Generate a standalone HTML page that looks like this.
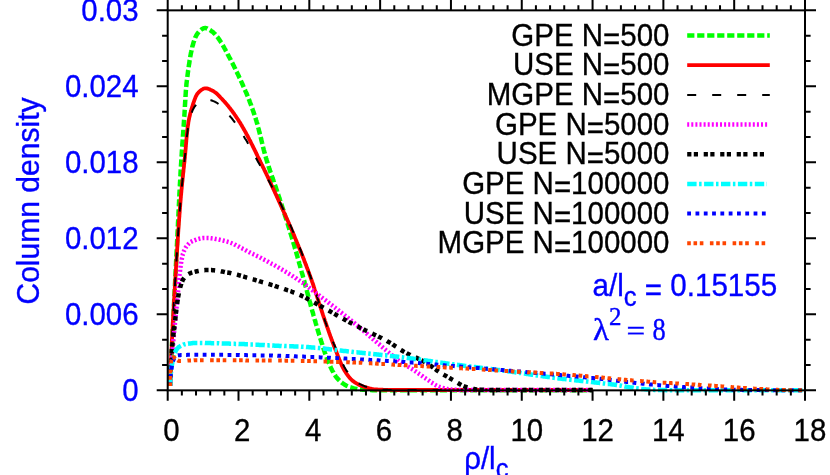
<!DOCTYPE html>
<html><head><meta charset="utf-8"><title>Column density</title>
<style>html,body{margin:0;padding:0;background:#fff;overflow:hidden}body{width:830px;height:475px;font-family:"Liberation Sans",sans-serif}svg{display:block;will-change:transform}</style></head>
<body>
<svg width="830" height="475" viewBox="0 0 830 475">
<rect width="830" height="475" fill="#fff"/>
<g fill="none" stroke-linejoin="round">
<path d="M170.0 386.0L170.0 385.2L170.1 384.4L170.1 383.6L170.2 382.8L170.2 382.0L170.2 381.2L170.3 380.4L170.3 379.6L170.4 378.8L170.4 378.0L170.4 377.2L170.5 376.4L170.5 375.6L170.5 374.8L170.6 374.0L170.6 373.2L170.7 372.4L170.7 371.6L170.7 370.8L170.8 370.0L170.8 369.2L170.9 368.4L170.9 367.6L170.9 366.8L171.0 366.0L171.0 365.2L171.1 364.4L171.1 363.6L171.1 362.8L171.2 362.0L171.2 361.2L171.2 360.4L171.3 359.6L171.3 358.8L171.4 358.0L171.4 357.2L171.4 356.4L171.5 355.6L171.5 354.8L171.6 354.0L171.6 353.2L171.6 352.4L171.7 351.6L171.7 350.8L171.8 350.0L171.8 349.2L171.8 348.4L171.9 347.6L171.9 346.8L172.0 346.0L172.0 345.2L172.0 344.4L172.1 343.6L172.1 342.8L172.1 342.0L172.2 341.2L172.2 340.4L172.3 339.6L172.3 338.8L172.3 338.0L172.4 337.2L172.4 336.4L172.5 335.6L172.5 334.8L172.5 334.0L172.6 333.2L172.6 332.4L172.7 331.6L172.7 330.8L172.7 330.0L172.8 329.2L172.8 328.4L172.9 327.6L172.9 326.8L172.9 326.0L173.0 325.2L173.0 324.4L173.1 323.6L173.1 322.8L173.1 322.0L173.2 321.2L173.2 320.4L173.3 319.6L173.3 318.8L173.3 318.0L173.4 317.2L173.4 316.4L173.4 315.6L173.5 314.8L173.5 314.0L173.6 313.2L173.6 312.4L173.6 311.6L173.7 310.8L173.7 310.0L173.8 309.2L173.8 308.4L173.8 307.6L173.9 306.8L173.9 306.0L174.0 305.2L174.0 304.4L174.0 303.6L174.1 302.8L174.1 302.0L174.2 301.2L174.2 300.4L174.2 299.6L174.3 298.8L174.3 298.0L174.4 297.2L174.4 296.4L174.4 295.6L174.5 294.8L174.5 294.0L174.6 293.2L174.6 292.4L174.6 291.6L174.7 290.8L174.7 290.0L174.8 289.2L174.8 288.4L174.8 287.6L174.9 286.8L174.9 286.0L175.0 285.2L175.0 284.4L175.0 283.6L175.1 282.8L175.1 282.0L175.2 281.2L175.2 280.4L175.2 279.6L175.3 278.8L175.3 278.0L175.4 277.2L175.4 276.4L175.4 275.6L175.5 274.8L175.5 274.0L175.5 273.2L175.6 272.4L175.6 271.6L175.7 270.8L175.7 270.0L175.7 269.2L175.8 268.4L175.8 267.6L175.9 266.8L175.9 266.0L175.9 265.2L176.0 264.4L176.0 263.6L176.1 262.8L176.1 262.0L176.1 261.2L176.2 260.4L176.2 259.6L176.3 258.8L176.3 258.0L176.3 257.2L176.4 256.4L176.4 255.6L176.5 254.8L176.5 254.0L176.5 253.2L176.6 252.4L176.6 251.6L176.7 250.8L176.7 250.0L176.7 249.2L176.8 248.4L176.8 247.6L176.9 246.8L176.9 246.0L176.9 245.2L177.0 244.4L177.0 243.6L177.1 242.8L177.1 242.0L177.1 241.2L177.2 240.4L177.2 239.6L177.3 238.8L177.3 238.0L177.3 237.2L177.4 236.4L177.4 235.6L177.5 234.8L177.5 234.0L177.5 233.2L177.6 232.4L177.6 231.6L177.7 230.8L177.7 230.0L177.7 229.2L177.8 228.4L177.8 227.6L177.9 226.8L177.9 226.0L177.9 225.2L178.0 224.4L178.0 223.6L178.0 222.8L178.1 222.0L178.1 221.2L178.2 220.4L178.2 219.6L178.2 218.8L178.3 218.0L178.3 217.2L178.4 216.4L178.4 215.6L178.4 214.7L178.5 213.9L178.5 213.1L178.5 212.3L178.6 211.5L178.6 210.7L178.7 209.9L178.7 209.1L178.7 208.3L178.8 207.5L178.8 206.7L178.9 205.9L178.9 205.1L178.9 204.3L179.0 203.5L179.0 202.7L179.1 201.9L179.1 201.1L179.1 200.3L179.2 199.5L179.2 198.7L179.2 197.9L179.3 197.1L179.3 196.3L179.4 195.5L179.4 194.7L179.4 193.9L179.5 193.1L179.5 192.3L179.6 191.5L179.6 190.7L179.7 189.9L179.7 189.1L179.7 188.3L179.8 187.5L179.8 186.7L179.9 185.9L179.9 185.1L179.9 184.3L180.0 183.5L180.0 182.7L180.1 181.9L180.1 181.1L180.2 180.3L180.2 179.5L180.2 178.7L180.3 177.9L180.3 177.1L180.4 176.3L180.4 175.5L180.5 174.7L180.5 173.9L180.5 173.1L180.6 172.3L180.6 171.5L180.7 170.7L180.7 169.9L180.8 169.1L180.8 168.3L180.9 167.5L180.9 166.7L181.0 165.9L181.0 165.1L181.1 164.3L181.1 163.5L181.2 162.7L181.2 161.9L181.3 161.1L181.3 160.3L181.4 159.5L181.4 158.7L181.5 157.9L181.5 157.1L181.6 156.3L181.6 155.5L181.7 154.7L181.7 154.0L181.8 153.2L181.8 152.4L181.9 151.6L181.9 150.8L182.0 150.0L182.1 149.2L182.1 148.4L182.2 147.6L182.2 146.8L182.3 146.0L182.3 145.2L182.4 144.4L182.4 143.6L182.5 142.8L182.5 142.0L182.6 141.2L182.7 140.4L182.7 139.6L182.8 138.8L182.8 138.0L182.9 137.2L182.9 136.4L183.0 135.6L183.0 134.8L183.1 134.0L183.2 133.2L183.2 132.4L183.3 131.6L183.3 130.8L183.4 130.0L183.4 129.2L183.5 128.4L183.5 127.6L183.6 126.8L183.7 126.0L183.7 125.2L183.8 124.4L183.8 123.6L183.9 122.8L183.9 122.0L184.0 121.2L184.0 120.4L184.1 119.6L184.1 118.8L184.2 118.0L184.2 117.2L184.3 116.4L184.4 115.6L184.4 114.8L184.5 114.0L184.5 113.2L184.6 112.4L184.6 111.6L184.7 110.8L184.7 110.0L184.8 109.2L184.8 108.4L184.9 107.6L184.9 106.8L184.9 106.0L185.0 105.2L185.0 104.4L185.1 103.6L185.1 102.8L185.2 102.0L185.2 101.2L185.3 100.4L185.3 99.6L185.4 98.8L185.4 98.0L185.5 97.2L185.5 96.4L185.6 95.6L185.6 94.8L185.7 94.0L185.7 93.2L185.8 92.4L185.8 91.6L185.9 90.8L185.9 90.0L186.0 89.2L186.1 88.4L186.1 87.6L186.2 86.8L186.3 86.0L186.4 85.2L186.4 84.4L186.5 83.6L186.6 82.8L186.7 82.0L186.8 81.2L186.9 80.4L187.0 79.6L187.1 78.8L187.2 78.0L187.3 77.2L187.4 76.4L187.5 75.7L187.6 74.9L187.7 74.1L187.8 73.3L187.9 72.5L188.0 71.7L188.1 70.9L188.2 70.1L188.4 69.3L188.5 68.5L188.6 67.7L188.7 66.9L188.8 66.1L188.9 65.3L189.0 64.5L189.2 63.7L189.3 62.9L189.4 62.2L189.5 61.4L189.6 60.6L189.8 59.8L189.9 59.0L190.0 58.2L190.2 57.4L190.3 56.6L190.4 55.8L190.6 55.0L190.7 54.2L190.9 53.4L191.0 52.6L191.2 51.9L191.4 51.1L191.5 50.3L191.7 49.5L191.9 48.7L192.1 48.0L192.2 47.2L192.4 46.4L192.6 45.7L192.9 44.9L193.1 44.1L193.3 43.3L193.5 42.5L193.8 41.7L194.1 40.9L194.3 40.1L194.6 39.3L194.9 38.5L195.2 37.7L195.5 37.0L195.9 36.3L196.2 35.6L196.6 34.9L197.0 34.3L197.4 33.7L197.8 33.1L198.3 32.5L198.8 31.9L199.4 31.2L200.1 30.6L200.8 30.0L201.5 29.4L202.2 29.0L202.9 28.6L203.6 28.3L204.4 28.1L205.0 28.0L205.7 28.1L206.5 28.3L207.2 28.5L207.9 28.9L208.7 29.3L209.4 29.7L210.2 30.2L210.9 30.7L211.5 31.2L212.2 31.6L212.8 32.1L213.4 32.6L214.0 33.2L214.6 33.7L215.2 34.3L215.7 34.9L216.2 35.6L216.7 36.2L217.2 36.8L217.7 37.4L218.2 38.0L218.6 38.7L219.1 39.3L219.5 40.0L220.0 40.6L220.4 41.3L220.8 42.0L221.3 42.7L221.7 43.3L222.1 44.0L222.5 44.7L222.9 45.4L223.3 46.1L223.7 46.8L224.1 47.5L224.5 48.3L224.9 49.0L225.3 49.7L225.6 50.4L226.0 51.1L226.4 51.8L226.8 52.5L227.2 53.3L227.5 54.0L227.9 54.7L228.3 55.4L228.7 56.1L229.0 56.8L229.4 57.5L229.8 58.2L230.2 58.9L230.6 59.6L230.9 60.3L231.3 61.0L231.7 61.8L232.0 62.5L232.4 63.2L232.8 63.9L233.1 64.6L233.5 65.3L233.9 66.0L234.2 66.8L234.6 67.5L234.9 68.2L235.3 68.9L235.6 69.6L236.0 70.4L236.3 71.1L236.7 71.8L237.0 72.5L237.4 73.3L237.7 74.0L238.1 74.7L238.4 75.4L238.7 76.1L239.1 76.9L239.4 77.6L239.8 78.3L240.1 79.1L240.4 79.8L240.8 80.5L241.1 81.2L241.4 82.0L241.8 82.7L242.1 83.4L242.4 84.2L242.7 84.9L243.1 85.6L243.4 86.4L243.7 87.1L244.0 87.8L244.4 88.6L244.7 89.3L245.0 90.0L245.3 90.8L245.6 91.5L246.0 92.2L246.3 93.0L246.6 93.7L246.9 94.5L247.2 95.2L247.5 95.9L247.8 96.7L248.1 97.4L248.4 98.2L248.7 98.9L249.0 99.7L249.3 100.4L249.6 101.1L249.8 101.9L250.1 102.6L250.4 103.4L250.7 104.1L251.0 104.9L251.2 105.7L251.5 106.4L251.8 107.2L252.0 107.9L252.3 108.7L252.6 109.4L252.8 110.2L253.1 110.9L253.4 111.7L253.6 112.5L253.9 113.2L254.1 114.0L254.4 114.7L254.6 115.5L254.9 116.3L255.1 117.0L255.4 117.8L255.6 118.5L255.9 119.3L256.1 120.1L256.4 120.8L256.6 121.6L256.8 122.4L257.0 123.1L257.3 123.9L257.5 124.7L257.7 125.5L257.9 126.2L258.1 127.0L258.3 127.8L258.5 128.5L258.7 129.3L258.9 130.1L259.1 130.9L259.3 131.6L259.5 132.4L259.7 133.2L259.9 134.0L260.1 134.8L260.3 135.5L260.5 136.3L260.7 137.1L260.9 137.9L261.1 138.7L261.2 139.4L261.4 140.2L261.6 141.0L261.8 141.8L262.0 142.6L262.2 143.3L262.4 144.1L262.6 144.9L262.8 145.7L262.9 146.4L263.1 147.2L263.3 148.0L263.5 148.8L263.7 149.6L263.9 150.3L264.1 151.1L264.3 151.9L264.5 152.7L264.7 153.4L264.9 154.2L265.1 155.0L265.4 155.8L265.6 156.5L265.8 157.3L266.0 158.1L266.2 158.8L266.5 159.6L266.7 160.4L266.9 161.1L267.2 161.9L267.4 162.7L267.6 163.4L267.9 164.2L268.1 164.9L268.4 165.7L268.6 166.5L268.9 167.2L269.1 168.0L269.4 168.8L269.6 169.5L269.9 170.3L270.1 171.0L270.4 171.8L270.6 172.6L270.9 173.3L271.2 174.1L271.4 174.8L271.7 175.6L271.9 176.3L272.2 177.1L272.5 177.9L272.7 178.6L273.0 179.4L273.2 180.1L273.5 180.9L273.8 181.6L274.0 182.4L274.3 183.2L274.6 183.9L274.8 184.7L275.1 185.4L275.4 186.2L275.6 186.9L275.9 187.7L276.1 188.5L276.4 189.2L276.7 190.0L276.9 190.7L277.2 191.5L277.4 192.3L277.7 193.0L277.9 193.8L278.2 194.5L278.4 195.3L278.7 196.1L278.9 196.8L279.2 197.6L279.4 198.3L279.7 199.1L279.9 199.9L280.2 200.6L280.4 201.4L280.7 202.2L280.9 202.9L281.2 203.7L281.4 204.4L281.7 205.2L281.9 206.0L282.2 206.7L282.4 207.5L282.7 208.3L282.9 209.0L283.2 209.8L283.4 210.5L283.7 211.3L283.9 212.1L284.2 212.8L284.4 213.6L284.6 214.3L284.9 215.1L285.1 215.9L285.4 216.6L285.6 217.4L285.9 218.2L286.1 218.9L286.4 219.7L286.6 220.5L286.8 221.2L287.1 222.0L287.3 222.7L287.6 223.5L287.8 224.3L288.1 225.0L288.3 225.8L288.5 226.6L288.8 227.3L289.0 228.1L289.2 228.9L289.5 229.6L289.7 230.4L289.9 231.2L290.2 231.9L290.4 232.7L290.6 233.5L290.9 234.2L291.1 235.0L291.3 235.8L291.6 236.5L291.8 237.3L292.0 238.1L292.2 238.8L292.5 239.6L292.7 240.4L292.9 241.1L293.2 241.9L293.4 242.7L293.6 243.4L293.8 244.2L294.1 245.0L294.3 245.7L294.5 246.5L294.7 247.3L294.9 248.1L295.2 248.8L295.4 249.6L295.6 250.4L295.8 251.1L296.1 251.9L296.3 252.7L296.5 253.4L296.7 254.2L296.9 255.0L297.2 255.8L297.4 256.5L297.6 257.3L297.8 258.1L298.0 258.8L298.2 259.6L298.5 260.4L298.7 261.2L298.9 261.9L299.1 262.7L299.3 263.5L299.5 264.2L299.8 265.0L300.0 265.8L300.2 266.6L300.4 267.3L300.6 268.1L300.8 268.9L301.1 269.6L301.3 270.4L301.5 271.2L301.7 272.0L301.9 272.7L302.1 273.5L302.4 274.3L302.6 275.0L302.8 275.8L303.0 276.6L303.2 277.4L303.4 278.1L303.6 278.9L303.8 279.7L304.1 280.5L304.3 281.2L304.5 282.0L304.7 282.8L304.9 283.5L305.1 284.3L305.3 285.1L305.5 285.9L305.7 286.6L305.9 287.4L306.1 288.2L306.3 289.0L306.6 289.7L306.8 290.5L307.0 291.3L307.2 292.1L307.4 292.8L307.6 293.6L307.8 294.4L308.0 295.2L308.2 295.9L308.4 296.7L308.6 297.5L308.8 298.3L309.0 299.0L309.3 299.8L309.5 300.6L309.7 301.3L309.9 302.1L310.1 302.9L310.3 303.7L310.5 304.4L310.7 305.2L310.9 306.0L311.1 306.8L311.4 307.5L311.6 308.3L311.8 309.1L312.0 309.8L312.2 310.6L312.4 311.4L312.7 312.2L312.9 312.9L313.1 313.7L313.3 314.5L313.5 315.2L313.7 316.0L314.0 316.8L314.2 317.6L314.4 318.3L314.6 319.1L314.8 319.9L315.1 320.6L315.3 321.4L315.5 322.2L315.7 323.0L315.9 323.7L316.2 324.5L316.4 325.3L316.6 326.0L316.8 326.8L317.0 327.6L317.3 328.3L317.5 329.1L317.7 329.9L317.9 330.6L318.2 331.4L318.4 332.2L318.6 333.0L318.9 333.7L319.1 334.5L319.3 335.3L319.6 336.0L319.8 336.8L320.0 337.5L320.3 338.3L320.5 339.1L320.8 339.8L321.0 340.6L321.2 341.4L321.5 342.1L321.7 342.9L322.0 343.7L322.2 344.4L322.4 345.2L322.7 346.0L322.9 346.7L323.2 347.5L323.4 348.3L323.7 349.0L323.9 349.8L324.2 350.6L324.4 351.3L324.7 352.1L324.9 352.9L325.2 353.6L325.5 354.4L325.7 355.1L326.0 355.9L326.3 356.6L326.6 357.4L326.8 358.1L327.1 358.9L327.4 359.6L327.7 360.3L328.0 361.1L328.3 361.8L328.6 362.5L329.0 363.3L329.3 364.0L329.6 364.8L329.9 365.5L330.3 366.3L330.6 367.1L330.9 367.8L331.3 368.6L331.7 369.3L332.0 370.0L332.4 370.8L332.8 371.5L333.2 372.2L333.5 372.9L333.9 373.6L334.4 374.3L334.8 375.0L335.2 375.6L335.6 376.2L336.1 376.9L336.6 377.5L337.0 378.0L337.5 378.6L338.1 379.2L338.6 379.8L339.2 380.3L339.8 380.9L340.4 381.5L341.0 382.0L341.7 382.5L342.3 383.1L343.0 383.5L343.7 384.0L344.4 384.5L345.1 384.9L345.8 385.3L346.5 385.7L347.2 386.0L347.9 386.3L348.6 386.6L349.3 386.9L350.0 387.2L350.8 387.4L351.5 387.7L352.3 387.9L353.1 388.2L353.9 388.4L354.7 388.6L355.5 388.8L356.3 389.0L357.1 389.1L357.9 389.3L358.7 389.4L359.5 389.5L360.3 389.5L361.1 389.6L361.8 389.6L362.6 389.7L363.4 389.7L364.2 389.8L365.0 389.8L365.8 389.9L366.6 389.9L367.4 390.0L368.2 390.0L369.0 390.0L369.8 390.1L370.6 390.1L371.4 390.1L372.2 390.2L373.0 390.2L373.9 390.2L374.7 390.2L375.5 390.3L376.3 390.3L377.1 390.3L377.9 390.3L378.7 390.3L379.5 390.3L380.3 390.3L381.1 390.3L381.9 390.3L382.7 390.3L383.5 390.3L384.3 390.3L385.1 390.3L385.9 390.3L386.7 390.3L387.5 390.3L388.3 390.3L389.1 390.3L389.9 390.3L390.7 390.3L391.5 390.3L392.3 390.3L393.1 390.3L393.9 390.3L394.7 390.3L395.5 390.3L396.3 390.3L397.1 390.3L397.9 390.3L398.7 390.3L399.5 390.3L400.3 390.3L401.1 390.3L401.9 390.3L402.7 390.3L403.5 390.3L404.3 390.3L405.1 390.3L405.9 390.3L406.7 390.3L407.5 390.3L408.3 390.3L409.1 390.3L409.9 390.3L410.7 390.3L411.5 390.3L412.3 390.3L413.1 390.3L413.9 390.3L414.7 390.3L415.5 390.3L416.3 390.3L417.1 390.3L417.9 390.3L418.7 390.3L419.5 390.3L420.3 390.3L421.1 390.3L421.9 390.3L422.7 390.3L423.5 390.3L424.3 390.3L425.1 390.3L425.9 390.3L426.7 390.3L427.5 390.3L428.3 390.3L429.1 390.3L429.9 390.3L430.7 390.3L431.5 390.3L432.3 390.3L433.1 390.3L433.9 390.3L434.7 390.3L435.5 390.3L436.3 390.3L437.1 390.3L437.9 390.3L438.7 390.3L439.5 390.3L440.3 390.3L441.1 390.3L441.9 390.3L442.8 390.3L443.6 390.3L444.4 390.3L445.2 390.3L446.0 390.3L446.8 390.3L447.6 390.3L448.4 390.3L449.2 390.3L450.0 390.3L450.8 390.3L451.6 390.3L452.4 390.3L453.2 390.3L454.0 390.3L454.8 390.3L455.6 390.3L456.4 390.3L457.2 390.3L458.0 390.3L458.8 390.3L459.6 390.3L460.4 390.3L461.2 390.3L462.0 390.3L462.8 390.3L463.6 390.3L464.4 390.3L465.2 390.3L466.0 390.3L466.8 390.3L467.6 390.3L468.4 390.3L469.2 390.3L470.0 390.3L470.8 390.3L471.6 390.3L472.4 390.3L473.2 390.3L474.0 390.3L474.8 390.3L475.6 390.3L476.4 390.3L477.2 390.3L478.0 390.3L478.8 390.3L479.6 390.3L480.4 390.3L481.2 390.3L482.0 390.3L482.8 390.3L483.6 390.3L484.4 390.3L485.2 390.3L486.0 390.3L486.8 390.3L487.6 390.3L488.4 390.3L489.2 390.3L490.0 390.3L490.8 390.3L491.6 390.3L492.4 390.3L493.2 390.3L494.0 390.3L494.8 390.3L495.6 390.3L496.4 390.3L497.2 390.3L498.0 390.3L498.8 390.3L499.6 390.3L500.4 390.3L501.2 390.3L502.0 390.3L502.8 390.3L503.6 390.3L504.4 390.3L505.2 390.3L506.0 390.3L506.8 390.3L507.6 390.3L508.4 390.3L509.2 390.3L510.0 390.3L510.8 390.3L511.6 390.3L512.4 390.3L513.2 390.3L514.1 390.3L514.9 390.3L515.7 390.3L516.5 390.3L517.3 390.3L518.1 390.3L518.9 390.3L519.7 390.3L520.5 390.3L521.3 390.3L522.1 390.3L522.9 390.3L523.7 390.3L524.5 390.3L525.3 390.3L526.1 390.3L526.9 390.3L527.7 390.3L528.5 390.3L529.3 390.3L530.1 390.3L530.9 390.3L531.7 390.3L532.5 390.3L533.3 390.3L534.1 390.3L534.9 390.3L535.7 390.3L536.5 390.3L537.3 390.3L538.1 390.3L538.9 390.3L539.7 390.3L540.5 390.3L541.3 390.3L542.1 390.3L542.9 390.3L543.7 390.3L544.5 390.3L545.3 390.3L546.1 390.3L546.9 390.3L547.7 390.3L548.5 390.3L549.3 390.3L550.1 390.3L550.9 390.3L551.7 390.3L552.5 390.3L553.3 390.3L554.1 390.3L554.9 390.3L555.7 390.3L556.5 390.3L557.3 390.3L558.1 390.3L558.9 390.3L559.7 390.3L560.5 390.3L561.3 390.3L562.1 390.3L562.9 390.3L563.7 390.3L564.5 390.3L565.3 390.3L566.1 390.3L566.9 390.3L567.7 390.3L568.5 390.3L569.4 390.3L570.2 390.3L571.0 390.3L571.8 390.3L572.6 390.3L573.4 390.3L574.2 390.3L575.0 390.3L575.8 390.3L576.6 390.3L577.4 390.3L578.2 390.3L579.0 390.3L579.8 390.3L580.6 390.3L581.4 390.3L582.2 390.3L583.0 390.3L583.8 390.3L584.6 390.3L585.4 390.3L586.2 390.3L587.0 390.3L587.8 390.3L588.6 390.3L589.4 390.3L590.2 390.3L591.0 390.3L591.8 390.3L592.6 390.3" stroke="#00ff00" stroke-width="4.5" stroke-dasharray="7.2 2.8"/>
<path d="M170.0 386.0L170.0 385.2L170.1 384.4L170.1 383.6L170.1 382.8L170.1 382.0L170.2 381.2L170.2 380.4L170.2 379.6L170.3 378.8L170.3 378.0L170.3 377.2L170.4 376.4L170.4 375.6L170.4 374.8L170.5 374.0L170.5 373.2L170.5 372.4L170.6 371.6L170.6 370.8L170.6 370.0L170.7 369.2L170.7 368.4L170.7 367.6L170.8 366.8L170.8 366.0L170.8 365.2L170.9 364.4L170.9 363.6L170.9 362.8L171.0 362.0L171.0 361.2L171.0 360.4L171.1 359.6L171.1 358.8L171.1 358.0L171.2 357.2L171.2 356.4L171.2 355.6L171.3 354.8L171.3 354.0L171.4 353.2L171.4 352.4L171.4 351.6L171.5 350.8L171.5 350.0L171.5 349.2L171.6 348.4L171.6 347.6L171.7 346.8L171.7 346.0L171.7 345.2L171.8 344.4L171.8 343.6L171.8 342.8L171.9 342.0L171.9 341.2L172.0 340.4L172.0 339.6L172.0 338.8L172.1 338.0L172.1 337.2L172.2 336.4L172.2 335.6L172.2 334.8L172.3 334.0L172.3 333.2L172.4 332.4L172.4 331.6L172.4 330.8L172.5 330.0L172.5 329.2L172.6 328.4L172.6 327.6L172.6 326.8L172.7 326.0L172.7 325.2L172.8 324.4L172.8 323.6L172.8 322.8L172.9 322.0L172.9 321.2L173.0 320.4L173.0 319.6L173.1 318.8L173.1 318.0L173.1 317.2L173.2 316.4L173.2 315.6L173.3 314.8L173.3 314.0L173.4 313.2L173.4 312.4L173.5 311.6L173.5 310.8L173.5 310.0L173.6 309.2L173.6 308.4L173.7 307.6L173.7 306.8L173.8 306.0L173.8 305.2L173.8 304.4L173.9 303.6L173.9 302.8L174.0 302.0L174.0 301.2L174.1 300.4L174.1 299.6L174.2 298.8L174.2 298.0L174.3 297.2L174.3 296.4L174.3 295.6L174.4 294.8L174.4 294.0L174.5 293.2L174.5 292.4L174.6 291.6L174.6 290.8L174.7 290.0L174.7 289.2L174.8 288.4L174.8 287.6L174.9 286.8L174.9 286.0L175.0 285.2L175.0 284.4L175.0 283.6L175.1 282.8L175.1 282.0L175.2 281.2L175.2 280.4L175.3 279.6L175.3 278.8L175.4 278.0L175.4 277.2L175.5 276.4L175.5 275.6L175.6 274.8L175.6 274.0L175.7 273.2L175.7 272.4L175.8 271.6L175.8 270.8L175.9 270.0L175.9 269.2L176.0 268.4L176.0 267.6L176.1 266.8L176.1 266.0L176.2 265.2L176.2 264.4L176.3 263.6L176.3 262.8L176.4 262.0L176.4 261.2L176.5 260.4L176.5 259.6L176.6 258.8L176.6 258.0L176.7 257.2L176.7 256.4L176.8 255.6L176.8 254.8L176.9 254.0L176.9 253.2L177.0 252.4L177.0 251.6L177.1 250.8L177.1 250.0L177.2 249.2L177.2 248.4L177.3 247.6L177.3 246.8L177.4 246.0L177.4 245.2L177.5 244.4L177.5 243.6L177.6 242.8L177.6 242.0L177.7 241.2L177.7 240.4L177.8 239.6L177.8 238.8L177.9 238.0L177.9 237.2L178.0 236.4L178.0 235.6L178.1 234.8L178.1 234.0L178.2 233.2L178.2 232.4L178.3 231.6L178.3 230.8L178.4 230.0L178.4 229.2L178.5 228.4L178.6 227.6L178.6 226.8L178.7 226.0L178.7 225.2L178.8 224.4L178.8 223.6L178.9 222.8L178.9 222.0L179.0 221.2L179.1 220.4L179.1 219.6L179.2 218.8L179.2 218.0L179.3 217.2L179.4 216.4L179.4 215.6L179.5 214.8L179.5 214.0L179.6 213.2L179.7 212.4L179.7 211.6L179.8 210.8L179.8 210.0L179.9 209.2L180.0 208.4L180.0 207.6L180.1 206.8L180.2 206.0L180.2 205.2L180.3 204.4L180.3 203.6L180.4 202.8L180.5 202.0L180.5 201.2L180.6 200.4L180.7 199.6L180.7 198.8L180.8 198.0L180.9 197.2L180.9 196.4L181.0 195.6L181.1 194.8L181.2 194.0L181.2 193.2L181.3 192.4L181.4 191.7L181.4 190.9L181.5 190.1L181.6 189.3L181.7 188.5L181.7 187.7L181.8 186.9L181.9 186.1L182.0 185.3L182.1 184.5L182.1 183.7L182.2 182.9L182.3 182.1L182.4 181.3L182.5 180.5L182.5 179.7L182.6 178.9L182.7 178.1L182.8 177.3L182.9 176.5L183.0 175.7L183.0 174.9L183.1 174.1L183.2 173.3L183.3 172.5L183.4 171.7L183.5 170.9L183.5 170.1L183.6 169.3L183.7 168.5L183.8 167.7L183.9 166.9L184.0 166.1L184.0 165.3L184.1 164.5L184.2 163.8L184.3 163.0L184.4 162.2L184.5 161.4L184.5 160.6L184.6 159.8L184.7 159.0L184.8 158.2L184.9 157.4L184.9 156.6L185.0 155.8L185.1 155.0L185.2 154.2L185.2 153.4L185.3 152.6L185.4 151.8L185.4 151.0L185.5 150.2L185.6 149.4L185.7 148.6L185.7 147.8L185.8 147.0L185.9 146.2L185.9 145.4L186.0 144.6L186.1 143.8L186.1 143.0L186.2 142.2L186.3 141.4L186.3 140.6L186.4 139.8L186.5 139.0L186.5 138.2L186.6 137.4L186.7 136.6L186.8 135.8L186.8 135.0L186.9 134.2L187.0 133.4L187.1 132.6L187.2 131.8L187.3 131.0L187.4 130.2L187.4 129.4L187.5 128.6L187.6 127.8L187.7 127.0L187.8 126.2L187.9 125.5L188.1 124.7L188.2 123.9L188.3 123.1L188.4 122.3L188.5 121.5L188.7 120.7L188.8 119.9L189.0 119.2L189.1 118.4L189.3 117.6L189.5 116.8L189.7 116.0L189.9 115.2L190.0 114.5L190.2 113.7L190.4 112.9L190.7 112.1L190.9 111.3L191.1 110.6L191.3 109.8L191.5 109.0L191.8 108.3L192.0 107.5L192.2 106.7L192.5 106.0L192.7 105.2L193.0 104.4L193.2 103.7L193.5 102.9L193.7 102.1L194.0 101.3L194.3 100.5L194.6 99.7L194.9 98.9L195.2 98.1L195.5 97.3L195.8 96.6L196.2 95.9L196.5 95.2L196.9 94.5L197.3 93.9L197.7 93.3L198.2 92.8L198.7 92.2L199.3 91.7L199.9 91.1L200.6 90.5L201.3 90.0L202.0 89.5L202.8 89.1L203.5 88.7L204.3 88.5L205.0 88.3L205.8 88.3L206.5 88.4L207.3 88.5L208.0 88.7L208.8 89.0L209.6 89.3L210.4 89.7L211.1 90.0L211.9 90.4L212.6 90.8L213.3 91.1L213.9 91.5L214.6 92.0L215.2 92.4L215.8 92.9L216.5 93.4L217.1 94.0L217.7 94.5L218.3 95.1L218.8 95.7L219.4 96.3L220.0 96.9L220.5 97.5L221.1 98.1L221.7 98.6L222.2 99.2L222.7 99.8L223.3 100.4L223.8 101.0L224.4 101.6L224.9 102.1L225.4 102.8L225.9 103.4L226.5 104.0L227.0 104.6L227.5 105.2L228.0 105.8L228.5 106.4L229.0 107.1L229.5 107.7L230.0 108.3L230.5 109.0L231.0 109.6L231.5 110.3L232.0 110.9L232.5 111.6L232.9 112.2L233.4 112.9L233.9 113.5L234.4 114.2L234.8 114.8L235.3 115.5L235.7 116.1L236.2 116.8L236.6 117.5L237.1 118.1L237.5 118.8L238.0 119.5L238.4 120.1L238.8 120.8L239.2 121.5L239.7 122.1L240.1 122.8L240.5 123.5L240.9 124.2L241.3 124.8L241.7 125.5L242.1 126.2L242.5 126.9L242.9 127.6L243.3 128.3L243.7 129.0L244.1 129.7L244.5 130.4L244.9 131.1L245.3 131.8L245.7 132.5L246.1 133.2L246.4 133.9L246.8 134.6L247.2 135.3L247.6 136.0L247.9 136.7L248.3 137.4L248.7 138.1L249.1 138.9L249.4 139.6L249.8 140.3L250.2 141.0L250.5 141.7L250.9 142.4L251.2 143.2L251.6 143.9L252.0 144.6L252.3 145.3L252.7 146.0L253.0 146.8L253.4 147.5L253.8 148.2L254.1 148.9L254.5 149.7L254.8 150.4L255.2 151.1L255.5 151.8L255.9 152.5L256.2 153.3L256.6 154.0L256.9 154.7L257.3 155.4L257.6 156.2L258.0 156.9L258.3 157.6L258.7 158.3L259.1 159.0L259.4 159.8L259.8 160.5L260.1 161.2L260.5 161.9L260.8 162.6L261.2 163.4L261.5 164.1L261.9 164.8L262.2 165.5L262.6 166.2L262.9 167.0L263.3 167.7L263.7 168.4L264.0 169.1L264.3 169.8L264.7 170.6L265.0 171.3L265.4 172.0L265.7 172.7L266.1 173.4L266.4 174.2L266.8 174.9L267.1 175.6L267.5 176.3L267.8 177.1L268.1 177.8L268.5 178.5L268.8 179.2L269.2 180.0L269.5 180.7L269.8 181.4L270.2 182.1L270.5 182.9L270.9 183.6L271.2 184.3L271.5 185.1L271.9 185.8L272.2 186.5L272.5 187.2L272.9 188.0L273.2 188.7L273.6 189.4L273.9 190.1L274.2 190.9L274.6 191.6L274.9 192.3L275.2 193.1L275.6 193.8L275.9 194.5L276.2 195.2L276.6 196.0L276.9 196.7L277.2 197.4L277.6 198.2L277.9 198.9L278.2 199.6L278.5 200.3L278.9 201.1L279.2 201.8L279.5 202.5L279.9 203.3L280.2 204.0L280.5 204.7L280.9 205.5L281.2 206.2L281.5 206.9L281.9 207.6L282.2 208.4L282.5 209.1L282.9 209.8L283.2 210.6L283.5 211.3L283.8 212.0L284.2 212.8L284.5 213.5L284.8 214.2L285.2 215.0L285.5 215.7L285.8 216.4L286.1 217.1L286.5 217.9L286.8 218.6L287.1 219.3L287.4 220.1L287.8 220.8L288.1 221.5L288.4 222.3L288.7 223.0L289.1 223.7L289.4 224.5L289.7 225.2L290.0 225.9L290.3 226.7L290.7 227.4L291.0 228.2L291.3 228.9L291.6 229.6L291.9 230.4L292.2 231.1L292.5 231.8L292.9 232.6L293.2 233.3L293.5 234.0L293.8 234.8L294.1 235.5L294.4 236.3L294.7 237.0L295.0 237.7L295.3 238.5L295.6 239.2L295.9 240.0L296.3 240.7L296.6 241.4L296.9 242.2L297.2 242.9L297.5 243.7L297.8 244.4L298.1 245.1L298.4 245.9L298.7 246.6L299.0 247.4L299.3 248.1L299.6 248.9L299.9 249.6L300.2 250.3L300.5 251.1L300.8 251.8L301.1 252.6L301.4 253.3L301.7 254.1L302.0 254.8L302.3 255.6L302.6 256.3L302.9 257.0L303.2 257.8L303.5 258.5L303.8 259.3L304.1 260.0L304.3 260.8L304.6 261.5L304.9 262.3L305.2 263.0L305.5 263.8L305.8 264.5L306.1 265.3L306.4 266.0L306.6 266.8L306.9 267.5L307.2 268.3L307.5 269.0L307.8 269.8L308.1 270.5L308.3 271.3L308.6 272.0L308.9 272.8L309.2 273.5L309.4 274.3L309.7 275.0L310.0 275.8L310.3 276.5L310.5 277.3L310.8 278.0L311.1 278.8L311.3 279.5L311.6 280.3L311.9 281.0L312.1 281.8L312.4 282.6L312.7 283.3L312.9 284.1L313.2 284.8L313.4 285.6L313.7 286.3L313.9 287.1L314.2 287.9L314.4 288.6L314.7 289.4L314.9 290.1L315.2 290.9L315.4 291.7L315.7 292.4L315.9 293.2L316.2 294.0L316.4 294.7L316.7 295.5L316.9 296.2L317.2 297.0L317.4 297.8L317.7 298.5L317.9 299.3L318.2 300.1L318.4 300.8L318.6 301.6L318.9 302.4L319.1 303.1L319.4 303.9L319.6 304.6L319.9 305.4L320.1 306.2L320.4 306.9L320.6 307.7L320.9 308.5L321.1 309.2L321.4 310.0L321.6 310.7L321.9 311.5L322.1 312.3L322.4 313.0L322.6 313.8L322.9 314.5L323.1 315.3L323.4 316.1L323.6 316.8L323.9 317.6L324.2 318.3L324.4 319.1L324.7 319.9L324.9 320.6L325.2 321.4L325.5 322.1L325.7 322.9L326.0 323.6L326.3 324.4L326.5 325.2L326.8 325.9L327.0 326.7L327.3 327.4L327.6 328.2L327.8 328.9L328.1 329.7L328.4 330.4L328.6 331.2L328.9 332.0L329.2 332.7L329.4 333.5L329.7 334.2L330.0 335.0L330.2 335.7L330.5 336.5L330.8 337.2L331.1 338.0L331.3 338.8L331.6 339.5L331.9 340.3L332.2 341.0L332.4 341.8L332.7 342.5L333.0 343.3L333.3 344.0L333.6 344.8L333.8 345.5L334.1 346.3L334.4 347.0L334.7 347.7L335.0 348.5L335.3 349.2L335.6 350.0L335.9 350.7L336.2 351.5L336.5 352.2L336.8 353.0L337.1 353.7L337.3 354.5L337.6 355.3L337.9 356.0L338.2 356.8L338.5 357.5L338.8 358.3L339.1 359.0L339.4 359.8L339.7 360.5L340.0 361.3L340.3 362.0L340.6 362.8L341.0 363.5L341.3 364.2L341.6 365.0L341.9 365.7L342.3 366.4L342.6 367.1L343.0 367.8L343.4 368.5L343.8 369.2L344.1 369.9L344.5 370.6L344.9 371.2L345.4 371.9L345.8 372.6L346.3 373.3L346.7 373.9L347.2 374.6L347.7 375.3L348.2 376.0L348.7 376.6L349.2 377.2L349.8 377.9L350.3 378.5L350.8 379.1L351.4 379.6L352.0 380.2L352.6 380.7L353.2 381.2L353.8 381.6L354.4 382.1L355.0 382.5L355.7 382.9L356.4 383.3L357.1 383.7L357.8 384.1L358.5 384.5L359.2 384.9L360.0 385.2L360.7 385.5L361.5 385.9L362.3 386.2L363.0 386.4L363.8 386.7L364.5 387.0L365.3 387.2L366.1 387.4L366.8 387.7L367.6 387.9L368.4 388.1L369.2 388.3L369.9 388.5L370.7 388.7L371.5 388.9L372.3 389.1L373.1 389.2L373.9 389.3L374.7 389.4L375.5 389.5L376.3 389.5L377.1 389.5L377.9 389.6L378.7 389.6L379.5 389.6L380.2 389.7L381.0 389.7L381.8 389.7L382.6 389.7L383.4 389.8L384.2 389.8L385.0 389.8L385.8 389.8L386.7 389.8L387.5 389.9L388.3 389.9L389.1 389.9L389.9 389.9L390.7 389.9L391.5 389.9L392.3 389.9L393.1 390.0L393.9 390.0L394.7 390.0L395.5 390.0L396.3 390.0L397.1 390.0L397.9 390.0L398.7 390.0L399.5 390.0L400.3 390.0L401.1 390.0L401.9 390.0L402.7 390.0L403.5 390.0L404.3 390.0L405.1 390.0L405.9 390.0L406.7 390.0L407.5 390.0L408.3 390.0L409.1 390.0L409.9 390.0L410.7 390.0L411.5 390.0L412.3 390.0L413.1 390.0L413.9 390.0L414.7 390.0L415.5 390.0L416.3 390.0L417.1 390.0L417.9 390.0L418.7 390.0L419.5 390.0L420.3 390.0L421.1 390.0L421.9 390.0L422.7 390.0L423.5 390.0L424.3 390.0L425.1 390.0L425.9 390.0L426.7 390.0L427.5 390.0L428.4 390.0L429.2 390.0L430.0 390.0L430.8 390.0L431.6 390.0L432.4 390.0L433.2 390.0L434.0 390.0L434.8 390.0L435.6 390.0L436.4 390.0L437.2 390.0L438.0 390.0L438.8 390.0L439.6 390.0L440.4 390.0L441.2 390.0L442.0 390.0L442.8 390.0L443.6 390.0L444.4 390.0L445.2 390.0L446.0 390.0L446.8 390.0L447.6 390.0L448.4 390.0L449.2 390.0L450.0 390.0L450.8 390.0L451.6 390.0L452.4 390.0L453.2 390.0L454.0 390.0L454.8 390.0L455.6 390.0L456.4 390.0L457.2 390.0L458.0 390.0L458.8 390.0L459.6 390.0L460.4 390.0L461.2 390.0L462.0 390.0L462.8 390.0L463.6 390.0L464.4 390.0L465.2 390.0L466.0 390.0L466.8 390.0L467.6 390.0L468.4 390.0L469.2 390.0L470.0 390.0L470.8 390.0L471.6 390.0L472.4 390.0L473.2 390.0L474.0 390.0L474.8 390.0L475.6 390.0L476.4 390.0L477.2 390.0L478.0 390.0L478.8 390.0L479.6 390.0L480.4 390.0L481.2 390.0L482.0 390.0L482.8 390.0L483.6 390.0L484.4 390.0L485.2 390.0L486.0 390.0L486.8 390.0L487.6 390.0L488.4 390.0L489.2 390.0L490.0 390.0L490.8 390.0L491.6 390.0L492.4 390.0L493.2 390.0L494.0 390.0L494.8 390.0L495.6 390.0L496.4 390.0L497.2 390.0L498.1 390.0L498.9 390.0L499.7 390.0L500.5 390.0L501.3 390.0L502.1 390.0L502.9 390.0L503.7 390.0L504.5 390.0L505.3 390.0L506.1 390.0L506.9 390.0L507.7 390.0L508.5 390.0L509.3 390.0L510.1 390.0L510.9 390.0L511.7 390.0L512.5 390.0L513.3 390.0L514.1 390.0L514.9 390.0L515.7 390.0L516.5 390.0L517.3 390.0L518.1 390.0L518.9 390.0L519.7 390.0L520.5 390.0L521.3 390.0L522.1 390.0L522.9 390.0L523.7 390.0L524.5 390.0L525.3 390.0L526.1 390.0L526.9 390.0L527.7 390.0L528.5 390.0L529.3 390.0L530.1 390.0L530.9 390.0L531.7 390.0L532.5 390.0L533.3 390.0L534.1 390.0L534.9 390.0L535.7 390.0L536.5 390.0L537.3 390.0L538.1 390.0L538.9 390.0L539.7 390.0L540.5 390.0L541.3 390.0L542.1 390.0L542.9 390.0L543.7 390.0L544.5 390.0L545.3 390.0L546.1 390.0L546.9 390.0L547.7 390.0L548.5 390.0L549.3 390.0L550.1 390.0L550.9 390.0L551.7 390.0L552.5 390.0L553.3 390.0L554.1 390.0L554.9 390.0L555.7 390.0L556.5 390.0L557.3 390.0L558.1 390.0L558.9 390.0L559.7 390.0L560.5 390.0L561.3 390.0L562.1 390.0L563.0 390.0L563.8 390.0L564.6 390.0L565.4 390.0L566.2 390.0L567.0 390.0L567.8 390.0L568.6 390.0L569.4 390.0L570.2 390.0L571.0 390.0L571.8 390.0L572.6 390.0L573.4 390.0L574.2 390.0L575.0 390.0L575.8 390.0L576.6 390.0L577.4 390.0L578.2 390.0L579.0 390.0L579.8 390.0L580.6 390.0L581.4 390.0L582.2 390.0L583.0 390.0L583.8 390.0L584.6 390.0L585.4 390.0L586.2 390.0L587.0 390.0L587.8 390.0L588.6 390.0L589.4 390.0L590.2 390.0L591.0 390.0L591.8 390.0L592.6 390.0" stroke="#ff0000" stroke-width="3.8"/>
<path d="M170.0 386.0L170.0 385.2L170.1 384.4L170.1 383.6L170.1 382.8L170.1 382.0L170.2 381.2L170.2 380.4L170.2 379.6L170.3 378.8L170.3 378.0L170.3 377.2L170.4 376.4L170.4 375.6L170.4 374.8L170.5 374.0L170.5 373.2L170.5 372.4L170.6 371.6L170.6 370.8L170.6 370.0L170.7 369.2L170.7 368.4L170.7 367.6L170.8 366.8L170.8 366.0L170.8 365.2L170.9 364.4L170.9 363.6L170.9 362.8L171.0 362.0L171.0 361.2L171.0 360.4L171.1 359.6L171.1 358.8L171.1 358.0L171.2 357.2L171.2 356.4L171.2 355.6L171.3 354.8L171.3 354.0L171.4 353.2L171.4 352.4L171.4 351.6L171.5 350.8L171.5 350.0L171.5 349.2L171.6 348.4L171.6 347.6L171.7 346.8L171.7 346.0L171.7 345.2L171.8 344.4L171.8 343.6L171.8 342.8L171.9 342.0L171.9 341.2L172.0 340.4L172.0 339.6L172.0 338.8L172.1 338.0L172.1 337.2L172.2 336.4L172.2 335.6L172.2 334.8L172.3 334.0L172.3 333.2L172.4 332.4L172.4 331.6L172.4 330.8L172.5 330.0L172.5 329.2L172.6 328.4L172.6 327.6L172.6 326.7L172.7 325.9L172.7 325.1L172.8 324.3L172.8 323.5L172.9 322.7L172.9 321.9L172.9 321.1L173.0 320.3L173.0 319.5L173.1 318.7L173.1 317.9L173.1 317.1L173.2 316.3L173.2 315.5L173.3 314.7L173.3 313.9L173.4 313.1L173.4 312.3L173.5 311.5L173.5 310.7L173.5 309.9L173.6 309.1L173.6 308.3L173.7 307.5L173.7 306.7L173.8 305.9L173.8 305.1L173.8 304.3L173.9 303.5L173.9 302.7L174.0 301.9L174.0 301.1L174.1 300.3L174.1 299.5L174.2 298.7L174.2 297.9L174.3 297.1L174.3 296.3L174.3 295.5L174.4 294.7L174.4 293.9L174.5 293.1L174.5 292.3L174.6 291.5L174.6 290.7L174.7 289.9L174.7 289.1L174.8 288.3L174.8 287.5L174.9 286.7L174.9 285.9L175.0 285.1L175.0 284.3L175.0 283.5L175.1 282.7L175.1 281.9L175.2 281.1L175.2 280.3L175.3 279.5L175.3 278.7L175.4 277.9L175.4 277.1L175.5 276.3L175.5 275.5L175.6 274.7L175.6 273.9L175.7 273.1L175.7 272.3L175.8 271.5L175.8 270.7L175.9 269.9L175.9 269.1L176.0 268.3L176.0 267.5L176.1 266.7L176.1 265.9L176.2 265.1L176.2 264.3L176.3 263.5L176.3 262.7L176.4 261.9L176.4 261.1L176.5 260.3L176.5 259.6L176.6 258.8L176.6 258.0L176.7 257.2L176.7 256.4L176.8 255.6L176.8 254.8L176.9 254.0L176.9 253.2L177.0 252.4L177.0 251.6L177.1 250.8L177.1 250.0L177.2 249.2L177.2 248.4L177.3 247.6L177.3 246.8L177.4 246.0L177.4 245.2L177.5 244.4L177.5 243.6L177.6 242.8L177.6 242.0L177.7 241.2L177.7 240.4L177.8 239.6L177.8 238.8L177.9 238.0L177.9 237.2L178.0 236.4L178.0 235.6L178.1 234.8L178.1 234.0L178.2 233.2L178.2 232.4L178.3 231.6L178.3 230.8L178.4 230.0L178.5 229.2L178.5 228.4L178.6 227.6L178.6 226.8L178.7 226.0L178.7 225.2L178.8 224.4L178.8 223.6L178.9 222.8L178.9 222.0L179.0 221.2L179.1 220.4L179.1 219.6L179.2 218.8L179.2 218.0L179.3 217.2L179.4 216.4L179.4 215.6L179.5 214.8L179.5 214.0L179.6 213.2L179.7 212.4L179.7 211.6L179.8 210.8L179.8 210.0L179.9 209.2L180.0 208.4L180.0 207.6L180.1 206.8L180.2 206.0L180.2 205.2L180.3 204.4L180.3 203.6L180.4 202.8L180.5 202.0L180.5 201.2L180.6 200.4L180.7 199.6L180.7 198.8L180.8 198.0L180.9 197.2L180.9 196.4L181.0 195.6L181.1 194.8L181.2 194.0L181.2 193.2L181.3 192.4L181.4 191.6L181.4 190.8L181.5 190.0L181.6 189.2L181.7 188.4L181.7 187.6L181.8 186.8L181.9 186.0L182.0 185.2L182.0 184.4L182.1 183.6L182.2 182.8L182.3 182.0L182.4 181.2L182.4 180.4L182.5 179.7L182.6 178.9L182.7 178.1L182.8 177.3L182.8 176.5L182.9 175.7L183.0 174.9L183.1 174.1L183.2 173.3L183.3 172.5L183.3 171.7L183.4 170.9L183.5 170.1L183.6 169.3L183.7 168.5L183.8 167.7L183.8 166.9L183.9 166.1L184.0 165.3L184.1 164.5L184.2 163.7L184.3 162.9L184.4 162.1L184.4 161.3L184.5 160.5L184.6 159.7L184.7 158.9L184.8 158.1L184.9 157.3L185.0 156.5L185.0 155.7L185.1 154.9L185.2 154.1L185.3 153.3L185.3 152.5L185.4 151.7L185.5 150.9L185.6 150.1L185.6 149.3L185.7 148.5L185.8 147.7L185.9 146.9L185.9 146.1L186.0 145.3L186.1 144.5L186.2 143.7L186.2 142.9L186.3 142.1L186.4 141.3L186.5 140.5L186.6 139.7L186.6 138.9L186.7 138.1L186.8 137.3L186.9 136.5L187.0 135.7L187.1 134.9L187.2 134.1L187.3 133.3L187.4 132.5L187.5 131.7L187.6 130.9L187.7 130.1L187.8 129.4L187.9 128.6L188.0 127.8L188.1 127.0L188.2 126.2L188.4 125.4L188.5 124.7L188.6 123.9L188.8 123.1L188.9 122.3L189.1 121.5L189.3 120.7L189.4 119.9L189.6 119.2L189.8 118.4L190.1 117.6L190.3 116.8L190.5 116.0L190.8 115.2L191.0 114.4L191.3 113.6L191.6 112.9L191.9 112.1L192.2 111.4L192.5 110.6L192.8 109.9L193.1 109.2L193.5 108.6L193.9 107.9L194.2 107.2L194.7 106.6L195.2 105.9L195.7 105.2L196.2 104.5L196.8 103.9L197.4 103.3L198.0 102.7L198.7 102.2L199.3 101.8L200.0 101.5L200.6 101.3L201.3 101.0L202.1 100.7L202.9 100.5L203.7 100.3L204.5 100.1L205.3 99.9L206.2 99.8L207.0 99.7L207.8 99.7L208.5 99.7L209.3 99.8L210.1 100.0L210.9 100.2L211.7 100.5L212.5 100.8L213.3 101.1L214.0 101.4L214.7 101.7L215.3 102.0L216.0 102.3L216.6 102.7L217.3 103.1L217.9 103.6L218.5 104.0L219.2 104.5L219.8 105.0L220.4 105.5L221.0 106.0L221.6 106.6L222.2 107.2L222.8 107.7L223.3 108.3L223.9 109.0L224.5 109.6L225.0 110.2L225.6 110.8L226.1 111.5L226.7 112.1L227.2 112.8L227.7 113.4L228.3 114.1L228.8 114.7L229.3 115.4L229.8 116.0L230.3 116.7L230.9 117.3L231.4 117.9L231.9 118.5L232.4 119.1L232.9 119.8L233.3 120.4L233.8 121.0L234.3 121.6L234.8 122.3L235.2 122.9L235.7 123.6L236.2 124.2L236.6 124.9L237.1 125.6L237.5 126.2L238.0 126.9L238.4 127.6L238.8 128.2L239.3 128.9L239.7 129.6L240.1 130.3L240.6 131.0L241.0 131.7L241.4 132.4L241.8 133.0L242.2 133.7L242.7 134.4L243.1 135.1L243.5 135.8L243.9 136.5L244.3 137.2L244.7 137.9L245.1 138.6L245.6 139.3L246.0 139.9L246.4 140.6L246.8 141.3L247.2 142.0L247.6 142.7L248.0 143.4L248.4 144.1L248.8 144.8L249.2 145.5L249.6 146.2L249.9 146.9L250.3 147.6L250.7 148.3L251.1 149.0L251.5 149.7L251.9 150.4L252.3 151.1L252.6 151.8L253.0 152.5L253.4 153.2L253.8 153.9L254.2 154.6L254.5 155.3L254.9 156.1L255.3 156.8L255.7 157.5L256.1 158.2L256.5 158.9L256.8 159.6L257.2 160.3L257.6 161.0L258.0 161.7L258.4 162.4L258.8 163.1L259.2 163.8L259.6 164.5L260.0 165.2L260.4 165.9L260.8 166.6L261.2 167.3L261.6 167.9L262.0 168.6L262.4 169.3L262.8 170.0L263.1 170.7L263.5 171.4L263.9 172.1L264.3 172.8L264.7 173.5L265.1 174.2L265.5 174.9L265.9 175.6L266.3 176.3L266.7 177.0L267.1 177.7L267.5 178.4L267.8 179.1L268.2 179.8L268.6 180.5L269.0 181.2L269.4 181.9L269.8 182.6L270.1 183.4L270.5 184.1L270.9 184.8L271.3 185.5L271.7 186.2L272.0 186.9L272.4 187.6L272.8 188.3L273.2 189.0L273.5 189.7L273.9 190.4L274.3 191.1L274.7 191.8L275.0 192.6L275.4 193.3L275.8 194.0L276.1 194.7L276.5 195.4L276.9 196.1L277.2 196.8L277.6 197.5L277.9 198.3L278.3 199.0L278.7 199.7L279.0 200.4L279.4 201.1L279.7 201.9L280.1 202.6L280.4 203.3L280.8 204.0L281.1 204.7L281.4 205.5L281.8 206.2L282.1 206.9L282.5 207.6L282.8 208.4L283.2 209.1L283.5 209.8L283.8 210.5L284.2 211.3L284.5 212.0L284.8 212.7L285.2 213.5L285.5 214.2L285.8 214.9L286.2 215.6L286.5 216.4L286.8 217.1L287.2 217.8L287.5 218.6L287.8 219.3L288.1 220.0L288.5 220.8L288.8 221.5L289.1 222.2L289.4 223.0L289.8 223.7L290.1 224.4L290.4 225.2L290.7 225.9L291.0 226.6L291.4 227.4L291.7 228.1L292.0 228.8L292.3 229.6L292.6 230.3L292.9 231.1L293.2 231.8L293.6 232.5L293.9 233.3L294.2 234.0L294.5 234.8L294.8 235.5L295.1 236.2L295.4 237.0L295.7 237.7L296.0 238.5L296.3 239.2L296.6 239.9L296.9 240.7L297.2 241.4L297.5 242.2L297.8 242.9L298.1 243.7L298.4 244.4L298.7 245.1L299.0 245.9L299.3 246.6L299.6 247.4L299.9 248.1L300.2 248.9L300.5 249.6L300.8 250.4L301.1 251.1L301.3 251.9L301.6 252.6L301.9 253.4L302.2 254.1L302.5 254.8L302.8 255.6L303.1 256.3L303.4 257.1L303.6 257.8L303.9 258.6L304.2 259.3L304.5 260.1L304.8 260.8L305.1 261.6L305.3 262.3L305.6 263.1L305.9 263.9L306.2 264.6L306.4 265.4L306.7 266.1L307.0 266.9L307.3 267.6L307.5 268.4L307.8 269.1L308.1 269.9L308.4 270.6L308.6 271.4L308.9 272.1L309.2 272.9L309.4 273.6L309.7 274.4L310.0 275.2L310.3 275.9L310.5 276.7L310.8 277.4L311.1 278.2L311.3 278.9L311.6 279.7L311.8 280.4L312.1 281.2L312.3 282.0L312.6 282.7L312.9 283.5L313.1 284.2L313.4 285.0L313.6 285.8L313.9 286.5L314.1 287.3L314.3 288.1L314.6 288.8L314.8 289.6L315.1 290.3L315.3 291.1L315.6 291.9L315.8 292.6L316.0 293.4L316.3 294.2L316.5 294.9L316.8 295.7L317.0 296.5L317.3 297.2L317.5 298.0L317.7 298.8L318.0 299.5L318.2 300.3L318.5 301.1L318.7 301.8L318.9 302.6L319.2 303.3L319.4 304.1L319.7 304.9L319.9 305.6L320.1 306.4L320.4 307.2L320.6 307.9L320.9 308.7L321.1 309.5L321.4 310.2L321.6 311.0L321.9 311.7L322.1 312.5L322.4 313.3L322.6 314.0L322.9 314.8L323.2 315.5L323.4 316.3L323.7 317.1L323.9 317.8L324.2 318.6L324.5 319.3L324.7 320.1L325.0 320.8L325.3 321.6L325.6 322.3L325.8 323.1L326.1 323.8L326.4 324.6L326.7 325.3L326.9 326.1L327.2 326.8L327.5 327.6L327.8 328.3L328.1 329.1L328.3 329.8L328.6 330.6L328.9 331.3L329.2 332.1L329.5 332.8L329.8 333.6L330.1 334.3L330.3 335.1L330.6 335.8L330.9 336.6L331.2 337.3L331.5 338.1L331.8 338.8L332.1 339.6L332.4 340.3L332.7 341.1L333.0 341.8L333.3 342.5L333.6 343.3L333.9 344.0L334.3 344.8L334.6 345.5L334.9 346.2L335.2 347.0L335.5 347.7L335.8 348.4L336.1 349.2L336.5 349.9L336.8 350.6L337.1 351.4L337.4 352.1L337.7 352.9L338.1 353.6L338.4 354.3L338.7 355.1L339.0 355.8L339.3 356.6L339.7 357.3L340.0 358.0L340.3 358.8L340.7 359.5L341.0 360.3L341.3 361.0L341.7 361.7L342.0 362.4L342.4 363.2L342.8 363.9L343.1 364.6L343.5 365.3L343.9 366.0L344.2 366.7L344.6 367.4L345.0 368.1L345.4 368.8L345.8 369.4L346.2 370.1L346.7 370.8L347.1 371.4L347.6 372.1L348.0 372.8L348.5 373.4L349.0 374.1L349.5 374.8L350.0 375.4L350.5 376.1L351.0 376.7L351.5 377.3L352.1 378.0L352.6 378.6L353.2 379.1L353.7 379.7L354.3 380.2L354.9 380.7L355.5 381.2L356.1 381.7L356.7 382.1L357.4 382.5L358.0 383.0L358.7 383.4L359.4 383.8L360.2 384.2L360.9 384.5L361.6 384.9L362.4 385.2L363.1 385.6L363.9 385.9L364.6 386.2L365.4 386.5L366.2 386.7L366.9 387.0L367.7 387.2L368.4 387.4L369.2 387.7L370.0 387.9L370.7 388.1L371.5 388.4L372.3 388.6L373.1 388.8L373.9 388.9L374.7 389.1L375.5 389.2L376.3 389.3L377.1 389.4L377.8 389.5L378.6 389.5L379.4 389.6L380.2 389.6L381.0 389.6L381.8 389.7L382.6 389.7L383.4 389.7L384.2 389.7L385.0 389.8L385.8 389.8L386.6 389.8L387.4 389.8L388.2 389.9L389.0 389.9L389.8 389.9L390.6 389.9L391.4 389.9L392.2 389.9L393.0 389.9L393.9 390.0L394.7 390.0L395.5 390.0L396.3 390.0L397.1 390.0L397.9 390.0L398.7 390.0L399.5 390.0L400.3 390.0L401.1 390.0L401.9 390.0L402.7 390.0L403.5 390.0L404.3 390.0L405.1 390.0L405.9 390.0L406.7 390.0L407.5 390.0L408.3 390.0L409.1 390.0L409.9 390.0L410.7 390.0L411.5 390.0L412.3 390.0L413.1 390.0L413.9 390.0L414.7 390.0L415.5 390.0L416.3 390.0L417.1 390.0L417.9 390.0L418.7 390.0L419.5 390.0L420.3 390.0L421.1 390.0L421.9 390.0L422.7 390.0L423.5 390.0L424.3 390.0L425.1 390.0L425.9 390.0L426.7 390.0L427.5 390.0L428.3 390.0L429.1 390.0L429.9 390.0L430.7 390.0L431.5 390.0L432.3 390.0L433.1 390.0L433.9 390.0L434.7 390.0L435.5 390.0L436.3 390.0L437.1 390.0L437.9 390.0L438.7 390.0L439.5 390.0L440.3 390.0L441.1 390.0L441.9 390.0L442.7 390.0L443.5 390.0L444.3 390.0L445.1 390.0L445.9 390.0L446.7 390.0L447.6 390.0L448.4 390.0L449.2 390.0L450.0 390.0L450.8 390.0L451.6 390.0L452.4 390.0L453.2 390.0L454.0 390.0L454.8 390.0L455.6 390.0L456.4 390.0L457.2 390.0L458.0 390.0L458.8 390.0L459.6 390.0L460.4 390.0L461.2 390.0L462.0 390.0L462.8 390.0L463.6 390.0L464.4 390.0L465.2 390.0L466.0 390.0L466.8 390.0L467.6 390.0L468.4 390.0L469.2 390.0L470.0 390.0L470.8 390.0L471.6 390.0L472.4 390.0L473.2 390.0L474.0 390.0L474.8 390.0L475.6 390.0L476.4 390.0L477.2 390.0L478.0 390.0L478.8 390.0L479.6 390.0L480.4 390.0L481.2 390.0L482.0 390.0L482.8 390.0L483.6 390.0L484.4 390.0L485.2 390.0L486.0 390.0L486.8 390.0L487.6 390.0L488.4 390.0L489.2 390.0L490.0 390.0L490.8 390.0L491.6 390.0L492.4 390.0L493.2 390.0L494.0 390.0L494.8 390.0L495.6 390.0L496.4 390.0L497.2 390.0L498.0 390.0L498.8 390.0L499.6 390.0L500.4 390.0L501.2 390.0L502.0 390.0L502.8 390.0L503.6 390.0L504.4 390.0L505.2 390.0L506.0 390.0L506.8 390.0L507.6 390.0L508.4 390.0L509.3 390.0L510.1 390.0L510.9 390.0L511.7 390.0L512.5 390.0L513.3 390.0L514.1 390.0L514.9 390.0L515.7 390.0L516.5 390.0L517.3 390.0L518.1 390.0L518.9 390.0L519.7 390.0L520.5 390.0L521.3 390.0L522.1 390.0L522.9 390.0L523.7 390.0L524.5 390.0L525.3 390.0L526.1 390.0L526.9 390.0L527.7 390.0L528.5 390.0L529.3 390.0L530.1 390.0L530.9 390.0L531.7 390.0L532.5 390.0L533.3 390.0L534.1 390.0L534.9 390.0L535.7 390.0L536.5 390.0L537.3 390.0L538.1 390.0L538.9 390.0L539.7 390.0L540.5 390.0L541.3 390.0L542.1 390.0L542.9 390.0L543.7 390.0L544.5 390.0L545.3 390.0L546.1 390.0L546.9 390.0L547.7 390.0L548.5 390.0L549.3 390.0L550.1 390.0L550.9 390.0L551.7 390.0L552.5 390.0L553.3 390.0L554.1 390.0L554.9 390.0L555.7 390.0L556.5 390.0L557.3 390.0L558.1 390.0L558.9 390.0L559.7 390.0L560.5 390.0L561.3 390.0L562.1 390.0L562.9 390.0L563.7 390.0L564.5 390.0L565.3 390.0L566.2 390.0L567.0 390.0L567.8 390.0L568.6 390.0L569.4 390.0L570.2 390.0L571.0 390.0L571.8 390.0L572.6 390.0L573.4 390.0L574.2 390.0L575.0 390.0L575.8 390.0L576.6 390.0L577.4 390.0L578.2 390.0L579.0 390.0L579.8 390.0L580.6 390.0L581.4 390.0L582.2 390.0L583.0 390.0L583.8 390.0L584.6 390.0L585.4 390.0L586.2 390.0L587.0 390.0L587.8 390.0L588.6 390.0L589.4 390.0L590.2 390.0L591.0 390.0L591.8 390.0L592.6 390.0" stroke="#000000" stroke-width="2.0" stroke-dasharray="9 16"/>
<path d="M170.0 386.0L170.0 385.2L170.1 384.4L170.1 383.6L170.2 382.8L170.2 382.0L170.3 381.2L170.3 380.4L170.4 379.6L170.5 378.8L170.5 378.0L170.6 377.2L170.6 376.4L170.7 375.6L170.7 374.8L170.8 374.0L170.8 373.2L170.9 372.4L170.9 371.6L171.0 370.8L171.1 370.0L171.1 369.2L171.2 368.4L171.2 367.6L171.3 366.8L171.3 366.0L171.4 365.2L171.5 364.4L171.5 363.6L171.6 362.8L171.6 362.0L171.7 361.2L171.8 360.4L171.8 359.6L171.9 358.8L172.0 358.0L172.0 357.2L172.1 356.4L172.1 355.6L172.2 354.8L172.3 354.0L172.3 353.2L172.4 352.4L172.5 351.6L172.5 350.8L172.6 350.0L172.7 349.2L172.7 348.4L172.8 347.6L172.9 346.8L172.9 346.0L173.0 345.2L173.1 344.4L173.1 343.6L173.2 342.8L173.3 342.0L173.3 341.2L173.4 340.4L173.5 339.6L173.6 338.8L173.6 338.0L173.7 337.2L173.8 336.4L173.8 335.6L173.9 334.8L174.0 334.0L174.1 333.2L174.1 332.4L174.2 331.6L174.3 330.8L174.3 330.0L174.4 329.2L174.5 328.4L174.6 327.6L174.6 326.8L174.7 326.0L174.8 325.2L174.9 324.4L174.9 323.6L175.0 322.8L175.1 322.0L175.2 321.2L175.2 320.4L175.3 319.6L175.4 318.8L175.5 318.0L175.6 317.2L175.6 316.4L175.7 315.6L175.8 314.8L175.9 314.1L175.9 313.3L176.0 312.5L176.1 311.7L176.2 310.9L176.3 310.1L176.3 309.3L176.4 308.5L176.5 307.7L176.6 306.9L176.7 306.1L176.7 305.3L176.8 304.5L176.9 303.7L177.0 302.9L177.1 302.1L177.1 301.3L177.2 300.5L177.3 299.7L177.4 298.9L177.5 298.1L177.5 297.3L177.6 296.5L177.7 295.7L177.8 294.9L177.8 294.1L177.9 293.3L178.0 292.4L178.1 291.6L178.1 290.8L178.2 290.0L178.3 289.2L178.3 288.4L178.4 287.5L178.5 286.7L178.5 285.9L178.6 285.1L178.7 284.3L178.8 283.4L178.8 282.6L178.9 281.8L179.0 281.0L179.0 280.2L179.1 279.3L179.2 278.5L179.3 277.7L179.4 276.9L179.4 276.1L179.5 275.3L179.6 274.4L179.7 273.6L179.8 272.8L179.9 272.0L180.0 271.2L180.1 270.4L180.1 269.6L180.2 268.8L180.4 268.0L180.5 267.2L180.6 266.4L180.7 265.7L180.8 264.9L180.9 264.1L181.0 263.3L181.2 262.5L181.3 261.8L181.4 261.0L181.6 260.3L181.7 259.5L181.9 258.7L182.0 258.0L182.2 257.3L182.3 256.5L182.5 255.8L182.7 255.1L182.8 254.3L183.1 253.6L183.3 252.8L183.6 252.1L183.9 251.3L184.2 250.5L184.6 249.7L185.0 248.9L185.5 248.1L185.9 247.3L186.4 246.6L186.9 245.9L187.4 245.2L187.9 244.6L188.5 244.0L189.0 243.4L189.5 242.9L190.1 242.5L190.6 242.1L191.2 241.8L191.8 241.4L192.5 241.1L193.1 240.8L193.9 240.5L194.6 240.2L195.4 240.0L196.1 239.7L196.9 239.4L197.8 239.2L198.6 239.0L199.4 238.7L200.3 238.6L201.1 238.4L202.0 238.2L202.8 238.1L203.7 238.0L204.5 238.0L205.3 237.9L206.1 237.9L206.9 237.9L207.7 237.9L208.4 238.0L209.2 238.0L210.0 238.1L210.8 238.2L211.6 238.3L212.4 238.4L213.2 238.5L214.0 238.6L214.8 238.8L215.6 238.9L216.4 239.1L217.2 239.2L218.0 239.4L218.8 239.6L219.6 239.7L220.4 239.9L221.2 240.1L222.0 240.3L222.8 240.5L223.5 240.7L224.3 240.8L225.1 241.0L225.8 241.2L226.6 241.4L227.3 241.6L228.1 241.9L228.8 242.1L229.6 242.4L230.3 242.7L231.1 243.0L231.8 243.3L232.5 243.6L233.3 243.9L234.0 244.2L234.7 244.6L235.5 244.9L236.2 245.3L236.9 245.6L237.6 246.0L238.4 246.4L239.1 246.7L239.8 247.1L240.5 247.5L241.2 247.9L242.0 248.3L242.7 248.7L243.4 249.0L244.1 249.4L244.8 249.8L245.5 250.2L246.3 250.6L247.0 251.0L247.7 251.3L248.4 251.7L249.1 252.1L249.8 252.4L250.6 252.8L251.3 253.1L252.0 253.5L252.7 253.8L253.4 254.2L254.2 254.6L254.9 254.9L255.6 255.3L256.3 255.6L257.0 256.0L257.7 256.4L258.5 256.7L259.2 257.1L259.9 257.5L260.6 257.8L261.3 258.2L262.0 258.6L262.7 258.9L263.4 259.3L264.2 259.7L264.9 260.1L265.6 260.4L266.3 260.8L267.0 261.2L267.7 261.6L268.4 261.9L269.1 262.3L269.8 262.7L270.5 263.1L271.2 263.5L271.9 263.9L272.6 264.2L273.3 264.6L274.0 265.0L274.7 265.4L275.4 265.8L276.1 266.2L276.8 266.6L277.5 267.0L278.2 267.4L278.9 267.8L279.6 268.2L280.3 268.6L281.0 269.0L281.7 269.4L282.4 269.8L283.1 270.2L283.8 270.6L284.4 271.0L285.1 271.4L285.8 271.9L286.5 272.3L287.2 272.7L287.9 273.1L288.6 273.5L289.2 274.0L289.9 274.4L290.6 274.8L291.3 275.2L292.0 275.7L292.6 276.1L293.3 276.5L294.0 277.0L294.7 277.4L295.3 277.9L296.0 278.3L296.7 278.7L297.3 279.2L298.0 279.6L298.7 280.1L299.3 280.5L300.0 281.0L300.6 281.4L301.3 281.9L301.9 282.4L302.6 282.8L303.3 283.3L303.9 283.8L304.5 284.2L305.2 284.7L305.8 285.2L306.5 285.7L307.1 286.2L307.8 286.6L308.4 287.1L309.0 287.6L309.7 288.1L310.3 288.6L310.9 289.1L311.6 289.6L312.2 290.1L312.9 290.6L313.5 291.0L314.1 291.5L314.8 292.0L315.4 292.5L316.0 293.0L316.7 293.5L317.3 294.0L317.9 294.5L318.6 295.0L319.2 295.4L319.8 295.9L320.5 296.4L321.1 296.9L321.8 297.4L322.4 297.9L323.0 298.4L323.7 298.9L324.3 299.4L324.9 299.8L325.6 300.3L326.2 300.8L326.8 301.3L327.5 301.8L328.1 302.3L328.7 302.8L329.4 303.3L330.0 303.8L330.6 304.3L331.3 304.8L331.9 305.2L332.5 305.7L333.2 306.2L333.8 306.7L334.4 307.2L335.1 307.7L335.7 308.2L336.3 308.7L337.0 309.2L337.6 309.7L338.2 310.2L338.9 310.7L339.5 311.2L340.1 311.7L340.7 312.2L341.4 312.7L342.0 313.2L342.6 313.7L343.3 314.2L343.9 314.7L344.5 315.2L345.1 315.7L345.8 316.2L346.4 316.7L347.0 317.2L347.6 317.7L348.3 318.2L348.9 318.7L349.5 319.2L350.1 319.7L350.8 320.2L351.4 320.7L352.0 321.2L352.6 321.7L353.2 322.2L353.9 322.7L354.5 323.2L355.1 323.8L355.7 324.3L356.3 324.8L357.0 325.3L357.6 325.8L358.2 326.3L358.8 326.8L359.4 327.4L360.0 327.9L360.6 328.4L361.2 328.9L361.9 329.4L362.5 329.9L363.1 330.5L363.7 331.0L364.3 331.5L364.9 332.0L365.5 332.6L366.1 333.1L366.7 333.6L367.3 334.1L367.9 334.7L368.5 335.2L369.2 335.7L369.8 336.2L370.4 336.8L371.0 337.3L371.6 337.8L372.2 338.3L372.8 338.9L373.4 339.4L374.0 339.9L374.6 340.4L375.2 341.0L375.8 341.5L376.4 342.0L377.0 342.5L377.6 343.1L378.2 343.6L378.9 344.1L379.5 344.6L380.1 345.2L380.7 345.7L381.3 346.2L381.9 346.7L382.5 347.3L383.1 347.8L383.7 348.3L384.3 348.8L384.9 349.3L385.6 349.9L386.2 350.4L386.8 350.9L387.4 351.4L388.0 351.9L388.6 352.4L389.2 352.9L389.9 353.5L390.5 354.0L391.1 354.5L391.7 355.0L392.3 355.5L392.9 356.0L393.5 356.6L394.2 357.1L394.8 357.6L395.4 358.1L396.0 358.6L396.6 359.1L397.3 359.6L397.9 360.1L398.5 360.6L399.2 361.1L399.8 361.6L400.5 362.0L401.1 362.5L401.8 362.9L402.5 363.3L403.1 363.8L403.8 364.2L404.5 364.6L405.2 365.0L405.9 365.4L406.6 365.8L407.3 366.2L408.0 366.6L408.7 367.0L409.4 367.4L410.1 367.8L410.8 368.2L411.5 368.6L412.1 369.1L412.8 369.5L413.5 369.9L414.2 370.4L414.8 370.8L415.5 371.3L416.1 371.7L416.8 372.2L417.5 372.7L418.1 373.1L418.8 373.6L419.4 374.1L420.1 374.5L420.7 375.0L421.4 375.5L422.0 375.9L422.7 376.4L423.3 376.9L424.0 377.3L424.6 377.8L425.3 378.2L426.0 378.7L426.6 379.1L427.3 379.5L428.0 380.0L428.7 380.5L429.3 380.9L430.0 381.4L430.7 381.9L431.3 382.4L432.0 382.8L432.7 383.3L433.4 383.7L434.1 384.2L434.7 384.6L435.4 385.0L436.1 385.4L436.8 385.8L437.5 386.1L438.3 386.4L439.0 386.7L439.7 387.0L440.4 387.2L441.2 387.4L441.9 387.7L442.7 387.9L443.5 388.1L444.3 388.3L445.1 388.5L445.9 388.7L446.7 388.9L447.4 389.0L448.3 389.2L449.1 389.3L449.9 389.4L450.7 389.5L451.5 389.6L452.3 389.7L453.1 389.7L453.8 389.7L454.6 389.8L455.4 389.8L456.2 389.8L457.0 389.8L457.8 389.8L458.6 389.9L459.4 389.9L460.2 389.9L461.1 389.9L461.9 389.9L462.7 389.9L463.5 390.0L464.3 390.0L465.1 390.0L465.9 390.0L466.7 390.0L467.5 390.0L468.3 390.0L469.1 390.0L469.9 390.0L470.7 390.0L471.5 390.0L472.3 390.0L473.1 390.0L473.9 390.0L474.7 390.0L475.5 390.0L476.3 390.0L477.1 390.0L477.9 390.0L478.7 390.0L479.5 390.0L480.3 390.0L481.1 390.0L481.9 390.0L482.7 390.0L483.5 390.0L484.3 390.0L485.1 390.0L485.9 390.0L486.7 390.0L487.5 390.0L488.3 390.0L489.1 390.0L489.9 390.0L490.7 390.0L491.5 390.0L492.3 390.0L493.2 390.0L494.0 390.0L494.8 390.0L495.6 390.0L496.4 390.0L497.2 390.0L498.0 390.0L498.8 390.0L499.6 390.0L500.4 390.0L501.2 390.0L502.0 390.0L502.8 390.0L503.6 390.0L504.4 390.0L505.2 390.0L506.0 390.0L506.8 390.0L507.6 390.0L508.4 390.0L509.2 390.0L510.0 390.0L510.8 390.0L511.6 390.0L512.4 390.0L513.2 390.0L514.0 390.0L514.8 390.0L515.6 390.0L516.4 390.0L517.2 390.0L518.0 390.0L518.8 390.0L519.6 390.0L520.4 390.0L521.2 390.0L522.0 390.0L522.8 390.0L523.6 390.0L524.4 390.0L525.2 390.0L526.0 390.0L526.8 390.0L527.6 390.0L528.4 390.0L529.2 390.0L530.0 390.0L530.8 390.0L531.6 390.0L532.4 390.0L533.2 390.0L534.1 390.0L534.9 390.0L535.7 390.0L536.5 390.0L537.3 390.0L538.1 390.0L538.9 390.0L539.7 390.0L540.5 390.0L541.3 390.0L542.1 390.0L542.9 390.0L543.7 390.0L544.5 390.0L545.3 390.0L546.1 390.0L546.9 390.0L547.7 390.0L548.5 390.0L549.3 390.0L550.1 390.0L550.9 390.0L551.7 390.0L552.5 390.0L553.3 390.0L554.1 390.0L554.9 390.0L555.7 390.0L556.5 390.0L557.3 390.0L558.1 390.0L558.9 390.0L559.7 390.0L560.5 390.0L561.3 390.0L562.1 390.0L562.9 390.0L563.7 390.0L564.5 390.0L565.3 390.0L566.1 390.0L566.9 390.0L567.7 390.0L568.5 390.0L569.3 390.0L570.1 390.0L570.9 390.0L571.7 390.0L572.5 390.0L573.4 390.0L574.2 390.0L575.0 390.0L575.8 390.0L576.6 390.0L577.4 390.0L578.2 390.0L579.0 390.0L579.8 390.0L580.6 390.0L581.4 390.0L582.2 390.0L583.0 390.0L583.8 390.0L584.6 390.0L585.4 390.0L586.2 390.0L587.0 390.0L587.8 390.0L588.6 390.0L589.4 390.0L590.2 390.0L591.0 390.0L591.8 390.0L592.6 390.0" stroke="#ff00ff" stroke-width="4.5" stroke-dasharray="2 2.1"/>
<path d="M170.0 386.0L170.0 385.2L170.0 384.4L170.0 383.6L170.0 382.8L170.0 382.0L170.1 381.2L170.1 380.4L170.1 379.5L170.1 378.7L170.1 377.9L170.2 377.1L170.2 376.3L170.2 375.5L170.3 374.7L170.3 373.9L170.3 373.1L170.4 372.3L170.4 371.5L170.4 370.7L170.5 369.9L170.5 369.1L170.6 368.3L170.6 367.5L170.6 366.7L170.7 365.9L170.7 365.1L170.8 364.3L170.8 363.5L170.9 362.7L170.9 361.9L171.0 361.1L171.1 360.3L171.1 359.5L171.2 358.7L171.2 357.9L171.3 357.1L171.4 356.3L171.4 355.5L171.5 354.7L171.6 353.9L171.6 353.1L171.7 352.3L171.8 351.5L171.8 350.7L171.9 349.9L172.0 349.1L172.1 348.3L172.1 347.5L172.2 346.7L172.3 345.9L172.4 345.1L172.4 344.3L172.5 343.5L172.6 342.7L172.7 341.9L172.8 341.1L172.9 340.3L172.9 339.5L173.0 338.7L173.1 337.9L173.2 337.1L173.3 336.3L173.4 335.5L173.4 334.7L173.5 333.9L173.6 333.1L173.7 332.4L173.8 331.6L173.9 330.8L174.0 330.0L174.1 329.2L174.2 328.4L174.3 327.6L174.3 326.8L174.4 326.0L174.5 325.2L174.6 324.4L174.7 323.6L174.8 322.8L174.9 322.0L175.0 321.2L175.1 320.4L175.2 319.7L175.3 318.9L175.4 318.1L175.5 317.3L175.6 316.5L175.7 315.7L175.8 314.9L175.8 314.1L175.9 313.2L176.0 312.4L176.1 311.6L176.2 310.8L176.3 309.9L176.4 309.1L176.5 308.3L176.6 307.4L176.7 306.6L176.9 305.7L177.0 304.9L177.1 304.0L177.2 303.2L177.3 302.3L177.4 301.5L177.6 300.7L177.7 299.8L177.8 299.0L178.0 298.2L178.1 297.3L178.2 296.5L178.4 295.7L178.5 294.9L178.7 294.0L178.8 293.2L179.0 292.4L179.2 291.6L179.4 290.9L179.5 290.1L179.7 289.3L179.9 288.5L180.1 287.8L180.3 287.0L180.5 286.3L180.7 285.6L180.9 284.9L181.2 284.2L181.4 283.5L181.7 282.8L181.9 282.2L182.2 281.5L182.4 280.9L182.7 280.2L183.0 279.6L183.4 279.0L183.8 278.4L184.3 277.7L184.9 277.1L185.5 276.5L186.1 275.9L186.8 275.3L187.5 274.8L188.2 274.3L188.9 273.9L189.6 273.5L190.3 273.2L191.0 272.9L191.7 272.7L192.4 272.5L193.2 272.3L193.9 272.0L194.7 271.8L195.4 271.6L196.2 271.5L197.0 271.3L197.8 271.1L198.6 271.0L199.5 270.8L200.3 270.7L201.1 270.5L201.9 270.4L202.8 270.3L203.6 270.2L204.4 270.2L205.2 270.1L206.0 270.0L206.8 270.0L207.6 270.0L208.4 270.0L209.2 270.0L210.0 270.0L210.8 270.1L211.6 270.1L212.4 270.2L213.2 270.3L214.0 270.3L214.8 270.4L215.6 270.5L216.4 270.6L217.2 270.7L218.0 270.9L218.8 271.0L219.6 271.1L220.4 271.2L221.2 271.4L222.0 271.5L222.8 271.6L223.6 271.8L224.4 271.9L225.2 272.1L226.0 272.2L226.7 272.4L227.5 272.5L228.3 272.7L229.1 272.8L229.9 273.0L230.7 273.1L231.5 273.3L232.2 273.4L233.0 273.6L233.8 273.8L234.6 274.0L235.3 274.2L236.1 274.4L236.9 274.6L237.7 274.8L238.4 275.0L239.2 275.3L240.0 275.5L240.8 275.7L241.5 275.9L242.3 276.2L243.1 276.4L243.8 276.6L244.6 276.9L245.4 277.1L246.1 277.4L246.9 277.6L247.7 277.8L248.4 278.0L249.2 278.3L250.0 278.5L250.8 278.7L251.5 278.9L252.3 279.2L253.1 279.4L253.8 279.6L254.6 279.8L255.4 280.0L256.2 280.3L256.9 280.5L257.7 280.7L258.5 280.9L259.2 281.2L260.0 281.4L260.8 281.6L261.5 281.8L262.3 282.1L263.1 282.3L263.8 282.5L264.6 282.8L265.4 283.0L266.2 283.2L266.9 283.4L267.7 283.7L268.5 283.9L269.2 284.1L270.0 284.4L270.8 284.6L271.5 284.9L272.3 285.1L273.1 285.3L273.8 285.6L274.6 285.8L275.3 286.1L276.1 286.3L276.9 286.6L277.6 286.8L278.4 287.1L279.1 287.3L279.9 287.6L280.7 287.8L281.4 288.1L282.2 288.3L282.9 288.6L283.7 288.8L284.5 289.1L285.2 289.4L286.0 289.6L286.7 289.9L287.5 290.2L288.3 290.4L289.0 290.7L289.8 291.0L290.5 291.2L291.3 291.5L292.0 291.8L292.8 292.1L293.5 292.4L294.3 292.6L295.0 292.9L295.8 293.2L296.5 293.5L297.3 293.8L298.0 294.1L298.7 294.5L299.5 294.8L300.2 295.1L300.9 295.4L301.6 295.8L302.4 296.1L303.1 296.5L303.8 296.8L304.5 297.2L305.2 297.5L305.9 297.9L306.6 298.3L307.3 298.7L308.0 299.1L308.7 299.5L309.4 299.9L310.1 300.3L310.8 300.7L311.5 301.1L312.2 301.4L312.9 301.8L313.6 302.2L314.3 302.6L315.0 303.0L315.7 303.4L316.4 303.8L317.2 304.2L317.9 304.6L318.6 305.0L319.3 305.3L320.0 305.7L320.7 306.1L321.4 306.5L322.1 306.9L322.8 307.3L323.5 307.7L324.2 308.1L324.9 308.5L325.6 308.9L326.3 309.2L327.0 309.6L327.7 310.0L328.4 310.4L329.1 310.8L329.8 311.2L330.5 311.6L331.2 312.0L331.8 312.4L332.5 312.8L333.2 313.2L333.9 313.6L334.6 314.0L335.3 314.4L336.0 314.8L336.7 315.2L337.4 315.6L338.1 316.0L338.8 316.3L339.5 316.7L340.2 317.1L340.9 317.5L341.6 317.9L342.3 318.3L343.0 318.7L343.7 319.1L344.4 319.5L345.1 319.9L345.8 320.2L346.5 320.6L347.2 321.0L347.9 321.4L348.6 321.8L349.3 322.2L350.1 322.6L350.8 322.9L351.5 323.3L352.2 323.7L352.9 324.1L353.6 324.4L354.3 324.8L355.0 325.2L355.7 325.6L356.4 325.9L357.1 326.3L357.9 326.6L358.6 327.0L359.3 327.4L360.0 327.7L360.7 328.1L361.5 328.4L362.2 328.8L362.9 329.1L363.6 329.5L364.4 329.8L365.1 330.2L365.8 330.5L366.5 330.9L367.3 331.2L368.0 331.5L368.7 331.9L369.4 332.2L370.2 332.6L370.9 332.9L371.6 333.3L372.3 333.6L373.1 334.0L373.8 334.3L374.5 334.7L375.2 335.0L376.0 335.4L376.7 335.7L377.4 336.1L378.1 336.4L378.8 336.8L379.6 337.1L380.3 337.5L381.0 337.8L381.7 338.2L382.4 338.6L383.1 338.9L383.8 339.3L384.5 339.7L385.2 340.1L385.9 340.4L386.7 340.8L387.3 341.2L388.0 341.6L388.7 342.0L389.4 342.4L390.1 342.8L390.8 343.2L391.5 343.6L392.2 344.0L392.8 344.5L393.5 344.9L394.2 345.4L394.8 345.8L395.5 346.3L396.2 346.7L396.8 347.2L397.5 347.7L398.1 348.1L398.8 348.6L399.5 349.0L400.1 349.5L400.8 349.9L401.5 350.3L402.2 350.7L402.8 351.1L403.5 351.5L404.2 351.9L404.9 352.3L405.7 352.7L406.4 353.0L407.1 353.4L407.8 353.8L408.5 354.1L409.2 354.5L410.0 354.8L410.7 355.2L411.4 355.5L412.1 355.8L412.9 356.2L413.6 356.5L414.3 356.9L415.1 357.2L415.8 357.5L416.5 357.9L417.3 358.2L418.0 358.6L418.7 358.9L419.4 359.3L420.2 359.6L420.9 360.0L421.6 360.3L422.3 360.7L423.0 361.1L423.7 361.4L424.4 361.8L425.1 362.2L425.8 362.6L426.5 363.0L427.2 363.4L427.9 363.8L428.5 364.3L429.2 364.7L429.8 365.2L430.5 365.6L431.1 366.1L431.8 366.6L432.4 367.1L433.1 367.5L433.7 368.0L434.4 368.5L435.0 369.0L435.7 369.5L436.3 369.9L437.0 370.4L437.6 370.9L438.3 371.3L439.0 371.8L439.6 372.2L440.3 372.6L441.0 373.0L441.7 373.5L442.4 373.9L443.0 374.3L443.7 374.7L444.4 375.1L445.1 375.5L445.8 375.9L446.5 376.3L447.2 376.7L447.9 377.1L448.6 377.5L449.3 377.9L450.0 378.3L450.7 378.7L451.4 379.1L452.1 379.5L452.8 379.9L453.5 380.3L454.2 380.7L454.9 381.1L455.6 381.5L456.3 382.0L457.0 382.4L457.6 382.8L458.3 383.2L459.0 383.7L459.7 384.1L460.4 384.5L461.1 384.9L461.8 385.3L462.6 385.6L463.3 386.0L464.0 386.3L464.7 386.6L465.5 386.8L466.2 387.1L467.0 387.3L467.7 387.5L468.5 387.7L469.2 387.9L470.0 388.1L470.8 388.3L471.6 388.5L472.4 388.7L473.2 388.9L474.0 389.0L474.8 389.2L475.6 389.3L476.4 389.4L477.2 389.5L478.0 389.6L478.8 389.7L479.6 389.7L480.4 389.7L481.2 389.8L482.0 389.8L482.8 389.8L483.6 389.8L484.4 389.9L485.2 389.9L486.0 389.9L486.8 389.9L487.6 389.9L488.4 389.9L489.2 390.0L490.0 390.0L490.8 390.0L491.6 390.0L492.4 390.0L493.2 390.0L494.0 390.0L494.8 390.0L495.6 390.0L496.4 390.0L497.2 390.0L498.0 390.0L498.8 390.0L499.6 390.0L500.4 390.0L501.2 390.0L502.0 390.0L502.8 390.0L503.6 390.0L504.4 390.0L505.2 390.0L506.0 390.0L506.8 390.0L507.6 390.0L508.4 390.0L509.2 390.0L510.0 390.0L510.8 390.0L511.6 390.0L512.4 390.0L513.2 390.0L514.0 390.0L514.8 390.0L515.6 390.0L516.4 390.0L517.2 390.0L518.0 390.0L518.8 390.0L519.7 390.0L520.5 390.0L521.3 390.0L522.1 390.0L522.9 390.0L523.7 390.0L524.5 390.0L525.3 390.0L526.1 390.0L526.9 390.0L527.7 390.0L528.5 390.0L529.3 390.0L530.1 390.0L530.9 390.0L531.7 390.0L532.5 390.0L533.3 390.0L534.1 390.0L534.9 390.0L535.7 390.0L536.5 390.0L537.3 390.0L538.1 390.0L538.9 390.0L539.7 390.0L540.5 390.0L541.3 390.0L542.1 390.0L542.9 390.0L543.7 390.0L544.5 390.0L545.3 390.0L546.1 390.0L546.9 390.0L547.7 390.0L548.5 390.0L549.3 390.0L550.1 390.0L550.9 390.0L551.7 390.0L552.5 390.0L553.3 390.0L554.1 390.0L554.9 390.0L555.7 390.0L556.5 390.0L557.3 390.0L558.1 390.0L558.9 390.0L559.7 390.0L560.5 390.0L561.3 390.0L562.1 390.0L562.9 390.0L563.7 390.0L564.5 390.0L565.3 390.0L566.1 390.0L566.9 390.0L567.7 390.0L568.5 390.0L569.4 390.0L570.2 390.0L571.0 390.0L571.8 390.0L572.6 390.0L573.4 390.0L574.2 390.0L575.0 390.0L575.8 390.0L576.6 390.0L577.4 390.0L578.2 390.0L579.0 390.0L579.8 390.0L580.6 390.0L581.4 390.0L582.2 390.0L583.0 390.0L583.8 390.0L584.6 390.0L585.4 390.0L586.2 390.0L587.0 390.0L587.8 390.0L588.6 390.0L589.4 390.0L590.2 390.0L591.0 390.0L591.8 390.0L592.6 390.0" stroke="#000000" stroke-width="4.5" stroke-dasharray="4.2 2.4 4.2 5.7"/>
<path d="M170.0 386.0L170.0 385.2L170.0 384.3L170.0 383.5L170.1 382.7L170.1 381.9L170.1 381.1L170.2 380.2L170.2 379.4L170.3 378.6L170.3 377.8L170.4 377.0L170.5 376.2L170.5 375.4L170.6 374.6L170.7 373.8L170.8 373.0L170.9 372.2L171.0 371.4L171.1 370.6L171.2 369.8L171.3 369.0L171.4 368.2L171.5 367.5L171.7 366.7L171.8 365.9L171.9 365.1L172.0 364.3L172.2 363.6L172.3 362.8L172.4 362.0L172.6 361.2L172.7 360.5L172.9 359.7L173.0 358.9L173.2 358.1L173.4 357.3L173.6 356.5L173.9 355.6L174.1 354.8L174.4 354.0L174.7 353.2L175.1 352.4L175.4 351.7L175.7 350.9L176.1 350.2L176.5 349.6L176.9 349.0L177.3 348.5L177.8 348.0L178.3 347.5L178.9 347.0L179.6 346.6L180.3 346.1L181.0 345.7L181.8 345.3L182.6 345.0L183.4 344.6L184.2 344.4L185.0 344.2L185.8 344.0L186.5 343.9L187.3 343.8L188.1 343.7L188.9 343.5L189.7 343.5L190.5 343.4L191.3 343.3L192.1 343.2L192.9 343.1L193.7 343.1L194.5 343.1L195.4 343.0L196.2 343.0L197.0 343.0L197.8 343.0L198.6 343.0L199.4 343.0L200.2 343.0L201.0 343.0L201.8 343.0L202.6 343.0L203.4 343.0L204.2 343.0L205.0 343.1L205.8 343.1L206.6 343.1L207.4 343.1L208.2 343.1L209.0 343.1L209.8 343.1L210.6 343.1L211.4 343.2L212.2 343.2L213.0 343.2L213.8 343.2L214.6 343.2L215.4 343.3L216.2 343.3L217.0 343.3L217.8 343.3L218.6 343.3L219.4 343.4L220.2 343.4L221.0 343.4L221.8 343.4L222.6 343.5L223.4 343.5L224.2 343.5L225.0 343.5L225.8 343.5L226.6 343.6L227.4 343.6L228.2 343.6L229.0 343.6L229.8 343.7L230.6 343.7L231.4 343.7L232.2 343.8L233.0 343.8L233.8 343.8L234.6 343.8L235.4 343.9L236.2 343.9L237.0 343.9L237.8 343.9L238.6 344.0L239.4 344.0L240.2 344.0L241.0 344.0L241.8 344.1L242.6 344.1L243.4 344.1L244.2 344.1L245.0 344.2L245.8 344.2L246.6 344.2L247.4 344.3L248.2 344.3L249.0 344.4L249.8 344.4L250.6 344.4L251.4 344.5L252.2 344.5L253.0 344.5L253.8 344.6L254.6 344.6L255.4 344.7L256.2 344.7L257.0 344.8L257.8 344.8L258.6 344.8L259.4 344.9L260.3 344.9L261.1 345.0L261.9 345.0L262.7 345.1L263.5 345.1L264.3 345.1L265.1 345.2L265.9 345.2L266.7 345.3L267.5 345.3L268.3 345.3L269.1 345.4L269.9 345.4L270.7 345.5L271.5 345.5L272.3 345.6L273.1 345.6L273.9 345.6L274.7 345.7L275.5 345.7L276.3 345.7L277.1 345.8L277.9 345.8L278.7 345.8L279.5 345.9L280.3 345.9L281.1 345.9L281.9 346.0L282.7 346.0L283.5 346.0L284.3 346.1L285.1 346.1L285.9 346.1L286.7 346.1L287.5 346.2L288.3 346.2L289.1 346.2L289.9 346.2L290.7 346.2L291.5 346.3L292.3 346.3L293.1 346.3L293.9 346.4L294.7 346.4L295.5 346.4L296.3 346.4L297.1 346.5L297.9 346.5L298.7 346.5L299.5 346.6L300.3 346.6L301.1 346.7L301.9 346.7L302.7 346.7L303.5 346.8L304.3 346.8L305.1 346.9L305.9 346.9L306.7 347.0L307.5 347.1L308.3 347.1L309.1 347.2L309.9 347.2L310.7 347.3L311.5 347.4L312.3 347.4L313.1 347.5L313.9 347.6L314.7 347.7L315.5 347.7L316.3 347.8L317.1 347.9L317.9 348.0L318.7 348.0L319.5 348.1L320.3 348.2L321.1 348.3L321.8 348.4L322.6 348.5L323.4 348.5L324.2 348.6L325.0 348.7L325.8 348.8L326.6 348.9L327.4 349.0L328.2 349.1L329.0 349.2L329.8 349.3L330.6 349.4L331.4 349.4L332.2 349.5L333.0 349.6L333.8 349.7L334.6 349.8L335.4 349.9L336.2 350.0L337.0 350.1L337.8 350.2L338.6 350.3L339.4 350.4L340.2 350.5L341.0 350.6L341.8 350.7L342.6 350.8L343.4 350.9L344.2 350.9L345.0 351.0L345.8 351.1L346.6 351.2L347.4 351.3L348.1 351.4L348.9 351.5L349.7 351.6L350.5 351.7L351.3 351.7L352.1 351.8L352.9 351.9L353.7 352.0L354.5 352.1L355.3 352.2L356.1 352.3L356.9 352.3L357.7 352.4L358.5 352.5L359.3 352.6L360.1 352.7L360.9 352.7L361.7 352.8L362.5 352.9L363.3 353.0L364.1 353.1L364.9 353.2L365.7 353.2L366.5 353.3L367.3 353.4L368.1 353.5L368.9 353.6L369.7 353.7L370.5 353.7L371.3 353.8L372.1 353.9L372.9 354.0L373.7 354.1L374.5 354.2L375.3 354.2L376.1 354.3L376.9 354.4L377.6 354.5L378.4 354.6L379.2 354.7L380.0 354.7L380.8 354.8L381.6 354.9L382.4 355.0L383.2 355.1L384.0 355.2L384.8 355.3L385.6 355.3L386.4 355.4L387.2 355.5L388.0 355.6L388.8 355.7L389.6 355.8L390.4 355.9L391.2 356.0L392.0 356.1L392.8 356.2L393.6 356.2L394.4 356.3L395.2 356.4L396.0 356.5L396.8 356.6L397.6 356.7L398.4 356.8L399.2 356.9L400.0 357.0L400.7 357.1L401.5 357.2L402.3 357.3L403.1 357.4L403.9 357.5L404.7 357.6L405.5 357.7L406.3 357.8L407.1 357.9L407.9 358.0L408.7 358.1L409.5 358.2L410.3 358.3L411.1 358.4L411.9 358.5L412.7 358.6L413.5 358.7L414.3 358.9L415.1 359.0L415.8 359.1L416.6 359.2L417.4 359.3L418.2 359.4L419.0 359.5L419.8 359.6L420.6 359.7L421.4 359.8L422.2 360.0L423.0 360.1L423.8 360.2L424.6 360.3L425.4 360.4L426.2 360.5L427.0 360.6L427.8 360.8L428.5 360.9L429.3 361.0L430.1 361.1L430.9 361.2L431.7 361.3L432.5 361.4L433.3 361.6L434.1 361.7L434.9 361.8L435.7 361.9L436.5 362.0L437.3 362.1L438.1 362.2L438.9 362.4L439.7 362.5L440.4 362.6L441.2 362.7L442.0 362.8L442.8 362.9L443.6 363.0L444.4 363.1L445.2 363.2L446.0 363.4L446.8 363.5L447.6 363.6L448.4 363.7L449.2 363.8L450.0 363.9L450.8 364.0L451.6 364.1L452.4 364.2L453.2 364.3L453.9 364.4L454.7 364.5L455.5 364.6L456.3 364.7L457.1 364.8L457.9 364.9L458.7 365.0L459.5 365.1L460.3 365.2L461.1 365.3L461.9 365.5L462.7 365.6L463.5 365.7L464.3 365.8L465.1 365.9L465.9 366.0L466.7 366.1L467.5 366.2L468.3 366.3L469.1 366.4L469.9 366.4L470.6 366.5L471.4 366.6L472.2 366.7L473.0 366.8L473.8 366.9L474.6 367.0L475.4 367.1L476.2 367.2L477.0 367.3L477.8 367.4L478.6 367.5L479.4 367.6L480.2 367.7L481.0 367.8L481.8 367.9L482.6 368.0L483.4 368.1L484.2 368.2L485.0 368.3L485.8 368.4L486.6 368.5L487.4 368.6L488.1 368.7L488.9 368.8L489.7 368.9L490.5 369.0L491.3 369.1L492.1 369.2L492.9 369.3L493.7 369.4L494.5 369.5L495.3 369.6L496.1 369.7L496.9 369.8L497.7 369.9L498.5 370.0L499.3 370.1L500.1 370.2L500.9 370.3L501.7 370.4L502.5 370.5L503.3 370.6L504.1 370.7L504.8 370.8L505.6 371.0L506.4 371.1L507.2 371.2L508.0 371.3L508.8 371.4L509.6 371.5L510.4 371.6L511.2 371.7L512.0 371.8L512.8 371.9L513.6 372.0L514.4 372.1L515.2 372.3L516.0 372.4L516.8 372.5L517.6 372.6L518.3 372.7L519.1 372.8L519.9 372.9L520.7 373.0L521.5 373.2L522.3 373.3L523.1 373.4L523.9 373.5L524.7 373.6L525.5 373.7L526.3 373.9L527.1 374.0L527.9 374.1L528.7 374.2L529.5 374.3L530.2 374.4L531.0 374.5L531.8 374.7L532.6 374.8L533.4 374.9L534.2 375.0L535.0 375.1L535.8 375.2L536.6 375.4L537.4 375.5L538.2 375.6L539.0 375.7L539.8 375.8L540.6 375.9L541.4 376.0L542.1 376.1L542.9 376.3L543.7 376.4L544.5 376.5L545.3 376.6L546.1 376.7L546.9 376.8L547.7 376.9L548.5 377.0L549.3 377.1L550.1 377.2L550.9 377.4L551.7 377.5L552.5 377.6L553.3 377.7L554.1 377.8L554.9 377.9L555.7 378.0L556.4 378.1L557.2 378.2L558.0 378.3L558.8 378.4L559.6 378.5L560.4 378.6L561.2 378.7L562.0 378.8L562.8 378.9L563.6 379.0L564.4 379.0L565.2 379.1L566.0 379.2L566.8 379.3L567.6 379.4L568.4 379.5L569.2 379.6L570.0 379.7L570.8 379.8L571.6 379.9L572.4 380.0L573.2 380.0L574.0 380.1L574.8 380.2L575.6 380.3L576.3 380.4L577.1 380.5L577.9 380.6L578.7 380.6L579.5 380.7L580.3 380.8L581.1 380.9L581.9 381.0L582.7 381.1L583.5 381.2L584.3 381.2L585.1 381.3L585.9 381.4L586.7 381.5L587.5 381.6L588.3 381.7L589.1 381.8L589.9 381.8L590.7 381.9L591.5 382.0L592.3 382.1L593.1 382.2L593.9 382.3L594.7 382.4L595.5 382.5L596.3 382.6L597.1 382.7L597.9 382.7L598.7 382.8L599.5 382.9L600.3 383.0L601.0 383.1L601.8 383.2L602.6 383.3L603.4 383.4L604.2 383.5L605.0 383.6L605.8 383.7L606.6 383.8L607.4 383.9L608.2 383.9L609.0 384.0L609.8 384.1L610.6 384.2L611.4 384.3L612.2 384.4L613.0 384.5L613.8 384.6L614.6 384.7L615.4 384.8L616.2 384.9L617.0 385.0L617.8 385.2L618.6 385.3L619.3 385.4L620.1 385.5L620.9 385.7L621.7 385.8L622.5 386.0L623.3 386.1L624.1 386.3L624.9 386.5L625.6 386.6L626.4 386.8L627.2 386.9L628.0 387.0L628.8 387.2L629.6 387.3L630.4 387.4L631.2 387.5L632.0 387.6L632.8 387.7L633.6 387.8L634.4 388.0L635.1 388.1L635.9 388.2L636.7 388.3L637.5 388.4L638.3 388.5L639.1 388.6L639.9 388.7L640.7 388.8L641.5 388.9L642.3 389.0L643.1 389.1L643.9 389.1L644.7 389.2L645.5 389.3L646.3 389.4L647.1 389.4L647.9 389.5L648.7 389.6L649.5 389.6L650.3 389.7L651.1 389.7L651.9 389.8L652.7 389.8L653.5 389.8L654.3 389.9L655.1 389.9L655.9 389.9L656.7 389.9L657.5 390.0L658.3 390.0L659.1 390.0L659.9 390.0L660.7 390.0L661.5 390.1L662.3 390.1L663.1 390.1L663.9 390.1L664.7 390.1L665.5 390.1L666.3 390.2L667.1 390.2L667.9 390.2L668.7 390.2L669.5 390.2L670.3 390.2L671.1 390.2L671.9 390.3L672.7 390.3L673.5 390.3L674.3 390.3L675.1 390.3L675.9 390.3L676.7 390.3L677.5 390.3L678.4 390.3L679.2 390.3L680.0 390.3L680.8 390.3L681.6 390.3L682.4 390.3L683.2 390.3L684.0 390.3L684.8 390.3L685.6 390.3L686.4 390.3L687.2 390.3L688.0 390.3L688.8 390.3L689.6 390.3L690.4 390.3L691.2 390.3L692.0 390.3L692.8 390.3L693.6 390.3L694.4 390.3L695.2 390.3L696.0 390.3L696.8 390.3L697.6 390.3L698.4 390.3L699.2 390.3L700.0 390.3L700.8 390.3L701.6 390.3L702.4 390.3L703.2 390.3L704.0 390.3L704.8 390.3L705.6 390.3L706.4 390.3L707.2 390.3L708.0 390.3L708.8 390.3L709.6 390.3L710.4 390.3L711.2 390.3L712.0 390.3L712.8 390.3L713.6 390.3L714.4 390.3L715.2 390.3L716.0 390.3L716.8 390.3L717.6 390.3L718.4 390.3L719.2 390.3L720.0 390.3L720.8 390.3L721.6 390.3L722.4 390.3L723.2 390.3L724.0 390.3L724.8 390.3L725.6 390.3L726.4 390.3L727.2 390.3L728.0 390.3L728.8 390.3L729.6 390.3L730.5 390.3L731.3 390.3L732.1 390.3L732.9 390.3L733.7 390.3L734.5 390.3L735.3 390.3L736.1 390.3L736.9 390.3L737.7 390.3L738.5 390.3L739.3 390.3L740.1 390.3L740.9 390.3L741.7 390.3L742.5 390.3L743.3 390.3L744.1 390.3L744.9 390.3L745.7 390.3L746.5 390.3L747.3 390.3L748.1 390.3L748.9 390.3L749.7 390.3L750.5 390.3L751.3 390.3L752.1 390.3L752.9 390.3L753.7 390.3L754.5 390.3L755.3 390.3L756.1 390.3L756.9 390.3L757.7 390.3L758.5 390.3L759.3 390.3L760.1 390.3L760.9 390.3L761.7 390.3L762.5 390.3L763.3 390.3L764.1 390.3L764.9 390.3L765.7 390.3L766.5 390.3L767.3 390.3L768.1 390.3L768.9 390.3L769.7 390.3L770.5 390.3L771.3 390.3L772.1 390.3L772.9 390.3L773.7 390.3L774.5 390.3L775.3 390.3L776.1 390.3L776.9 390.3L777.7 390.3L778.5 390.3L779.3 390.3L780.1 390.3L781.0 390.3L781.8 390.3L782.6 390.3L783.4 390.3L784.2 390.3L785.0 390.3L785.8 390.3L786.6 390.3L787.4 390.3L788.2 390.3L789.0 390.3L789.8 390.3L790.6 390.3L791.4 390.3L792.2 390.3L793.0 390.3L793.8 390.3L794.6 390.3L795.4 390.3L796.2 390.3L797.0 390.3L797.8 390.3L798.6 390.3L799.4 390.3L800.2 390.3L801.0 390.3L801.8 390.3L802.6 390.3L803.4 390.3L804.2 390.3L805.0 390.3" stroke="#00ffff" stroke-width="4.5" stroke-dasharray="9.4 2.5 2.5 2.5"/>
<path d="M170.0 386.0L170.0 385.1L170.0 384.2L170.0 383.4L170.1 382.5L170.1 381.7L170.1 380.8L170.2 380.0L170.2 379.1L170.3 378.3L170.3 377.5L170.4 376.7L170.5 375.9L170.6 375.1L170.7 374.3L170.7 373.5L170.8 372.7L171.0 371.9L171.1 371.1L171.2 370.3L171.3 369.6L171.4 368.8L171.6 368.0L171.7 367.3L171.8 366.5L172.0 365.8L172.1 365.0L172.3 364.3L172.4 363.6L172.6 362.8L172.8 362.1L173.0 361.3L173.3 360.5L173.6 359.6L174.0 358.7L174.4 357.9L174.9 357.1L175.4 356.4L175.9 355.9L176.5 355.6L177.0 355.5L177.5 355.4L178.1 355.3L178.8 355.3L179.5 355.2L180.2 355.2L180.9 355.1L181.7 355.1L182.5 355.0L183.3 355.0L184.1 355.0L185.0 354.9L185.8 354.9L186.7 354.9L187.6 354.8L188.5 354.8L189.4 354.8L190.2 354.8L191.1 354.7L192.0 354.7L192.9 354.7L193.8 354.7L194.6 354.7L195.5 354.7L196.3 354.7L197.1 354.7L197.9 354.7L198.7 354.7L199.5 354.7L200.3 354.7L201.1 354.7L201.9 354.7L202.7 354.7L203.5 354.7L204.3 354.7L205.1 354.7L205.9 354.7L206.7 354.7L207.5 354.7L208.3 354.7L209.1 354.7L209.9 354.7L210.7 354.7L211.5 354.7L212.3 354.8L213.1 354.8L213.9 354.8L214.7 354.8L215.5 354.8L216.3 354.8L217.1 354.8L217.9 354.8L218.7 354.8L219.5 354.8L220.3 354.8L221.1 354.8L221.9 354.8L222.7 354.8L223.5 354.8L224.4 354.9L225.2 354.9L226.0 354.9L226.8 354.9L227.6 354.9L228.4 354.9L229.2 354.9L230.0 354.9L230.8 354.9L231.6 354.9L232.4 354.9L233.2 355.0L234.0 355.0L234.8 355.0L235.6 355.0L236.4 355.0L237.2 355.0L238.0 355.0L238.8 355.0L239.6 355.0L240.4 355.1L241.2 355.1L242.0 355.1L242.8 355.1L243.6 355.1L244.4 355.1L245.2 355.1L246.0 355.1L246.8 355.2L247.6 355.2L248.4 355.2L249.2 355.2L250.0 355.2L250.8 355.2L251.6 355.2L252.4 355.3L253.2 355.3L254.0 355.3L254.8 355.3L255.6 355.3L256.4 355.3L257.2 355.3L258.0 355.4L258.8 355.4L259.6 355.4L260.4 355.4L261.2 355.4L262.0 355.4L262.8 355.5L263.6 355.5L264.4 355.5L265.2 355.5L266.0 355.5L266.8 355.5L267.6 355.5L268.4 355.6L269.2 355.6L270.0 355.6L270.8 355.6L271.7 355.6L272.5 355.6L273.3 355.7L274.1 355.7L274.9 355.7L275.7 355.7L276.5 355.7L277.3 355.7L278.1 355.8L278.9 355.8L279.7 355.8L280.5 355.8L281.3 355.8L282.1 355.8L282.9 355.9L283.7 355.9L284.5 355.9L285.3 355.9L286.1 356.0L286.9 356.0L287.7 356.0L288.5 356.0L289.3 356.1L290.1 356.1L290.9 356.1L291.7 356.2L292.5 356.2L293.3 356.2L294.1 356.3L294.9 356.3L295.7 356.3L296.5 356.4L297.3 356.4L298.1 356.4L298.9 356.5L299.7 356.5L300.5 356.5L301.3 356.6L302.1 356.6L302.9 356.6L303.7 356.6L304.5 356.7L305.3 356.7L306.1 356.7L306.9 356.8L307.7 356.8L308.5 356.8L309.3 356.9L310.1 356.9L310.9 356.9L311.7 357.0L312.5 357.0L313.3 357.1L314.1 357.1L314.9 357.1L315.7 357.2L316.5 357.2L317.3 357.2L318.1 357.3L318.9 357.3L319.7 357.3L320.5 357.4L321.3 357.4L322.1 357.4L322.9 357.5L323.7 357.5L324.5 357.6L325.3 357.6L326.1 357.6L326.9 357.7L327.7 357.7L328.5 357.7L329.3 357.8L330.1 357.8L330.9 357.9L331.7 357.9L332.5 357.9L333.3 358.0L334.1 358.0L334.9 358.1L335.7 358.1L336.5 358.1L337.3 358.2L338.1 358.2L338.9 358.2L339.7 358.3L340.5 358.3L341.3 358.4L342.1 358.4L342.9 358.4L343.7 358.5L344.5 358.5L345.3 358.6L346.1 358.6L346.9 358.7L347.7 358.7L348.5 358.7L349.3 358.8L350.1 358.8L350.9 358.9L351.7 358.9L352.6 358.9L353.4 359.0L354.2 359.0L355.0 359.1L355.8 359.1L356.6 359.1L357.4 359.2L358.2 359.2L359.0 359.3L359.8 359.3L360.6 359.4L361.4 359.4L362.2 359.4L363.0 359.5L363.8 359.5L364.6 359.6L365.4 359.6L366.2 359.7L367.0 359.7L367.8 359.7L368.6 359.8L369.4 359.8L370.2 359.9L371.0 359.9L371.8 360.0L372.6 360.0L373.4 360.1L374.2 360.1L375.0 360.2L375.8 360.2L376.6 360.2L377.4 360.3L378.2 360.3L379.0 360.4L379.8 360.4L380.6 360.5L381.4 360.5L382.2 360.6L383.0 360.6L383.8 360.7L384.6 360.7L385.4 360.8L386.2 360.8L387.0 360.9L387.8 360.9L388.6 361.0L389.4 361.0L390.2 361.1L391.0 361.1L391.8 361.2L392.6 361.2L393.4 361.3L394.2 361.3L395.0 361.4L395.8 361.4L396.6 361.5L397.4 361.5L398.2 361.6L399.0 361.6L399.8 361.7L400.6 361.7L401.4 361.8L402.2 361.8L403.0 361.9L403.8 362.0L404.6 362.0L405.4 362.1L406.2 362.1L407.0 362.2L407.8 362.3L408.6 362.3L409.4 362.4L410.2 362.4L411.0 362.5L411.8 362.6L412.6 362.6L413.4 362.7L414.2 362.7L415.0 362.8L415.8 362.9L416.6 362.9L417.4 363.0L418.2 363.1L419.0 363.1L419.8 363.2L420.6 363.3L421.4 363.3L422.2 363.4L422.9 363.5L423.7 363.5L424.5 363.6L425.3 363.7L426.1 363.7L426.9 363.8L427.7 363.9L428.5 363.9L429.3 364.0L430.1 364.1L430.9 364.1L431.7 364.2L432.5 364.3L433.3 364.3L434.1 364.4L434.9 364.5L435.7 364.5L436.5 364.6L437.3 364.7L438.1 364.7L438.9 364.8L439.7 364.9L440.5 365.0L441.3 365.0L442.1 365.1L442.9 365.2L443.7 365.2L444.5 365.3L445.3 365.4L446.1 365.4L446.9 365.5L447.7 365.6L448.5 365.6L449.3 365.7L450.1 365.8L450.9 365.8L451.7 365.9L452.5 366.0L453.3 366.0L454.1 366.1L454.9 366.2L455.7 366.2L456.5 366.3L457.3 366.4L458.1 366.4L458.9 366.5L459.7 366.5L460.5 366.6L461.3 366.7L462.1 366.7L462.9 366.8L463.7 366.9L464.5 366.9L465.3 367.0L466.1 367.1L466.9 367.1L467.7 367.2L468.5 367.3L469.3 367.3L470.1 367.4L470.9 367.5L471.7 367.5L472.5 367.6L473.3 367.7L474.1 367.7L474.9 367.8L475.7 367.9L476.5 367.9L477.3 368.0L478.1 368.1L478.9 368.1L479.7 368.2L480.5 368.3L481.3 368.3L482.1 368.4L482.9 368.5L483.7 368.5L484.5 368.6L485.3 368.7L486.1 368.7L486.9 368.8L487.7 368.9L488.5 368.9L489.3 369.0L490.1 369.1L490.9 369.1L491.7 369.2L492.5 369.3L493.3 369.3L494.1 369.4L494.9 369.5L495.7 369.5L496.5 369.6L497.3 369.7L498.0 369.7L498.8 369.8L499.6 369.9L500.4 369.9L501.2 370.0L502.0 370.1L502.8 370.1L503.6 370.2L504.4 370.3L505.2 370.3L506.0 370.4L506.8 370.5L507.6 370.5L508.4 370.6L509.2 370.7L510.0 370.7L510.8 370.8L511.6 370.9L512.4 370.9L513.2 371.0L514.0 371.1L514.8 371.2L515.6 371.2L516.4 371.3L517.2 371.4L518.0 371.4L518.8 371.5L519.6 371.6L520.4 371.6L521.2 371.7L522.0 371.8L522.8 371.8L523.6 371.9L524.4 372.0L525.2 372.0L526.0 372.1L526.8 372.2L527.6 372.2L528.4 372.3L529.2 372.4L530.0 372.5L530.8 372.5L531.6 372.6L532.4 372.7L533.2 372.7L534.0 372.8L534.8 372.9L535.6 372.9L536.4 373.0L537.2 373.1L538.0 373.1L538.8 373.2L539.6 373.3L540.4 373.4L541.2 373.4L542.0 373.5L542.8 373.6L543.6 373.6L544.4 373.7L545.2 373.8L546.0 373.8L546.8 373.9L547.6 374.0L548.4 374.1L549.2 374.1L550.0 374.2L550.8 374.3L551.6 374.3L552.4 374.4L553.2 374.5L554.0 374.5L554.8 374.6L555.6 374.7L556.4 374.8L557.2 374.8L558.0 374.9L558.8 375.0L559.5 375.0L560.3 375.1L561.1 375.2L561.9 375.3L562.7 375.3L563.5 375.4L564.3 375.5L565.1 375.5L565.9 375.6L566.7 375.7L567.5 375.8L568.3 375.8L569.1 375.9L569.9 376.0L570.7 376.0L571.5 376.1L572.3 376.2L573.1 376.3L573.9 376.3L574.7 376.4L575.5 376.5L576.3 376.5L577.1 376.6L577.9 376.7L578.7 376.8L579.5 376.8L580.3 376.9L581.1 377.0L581.9 377.0L582.7 377.1L583.5 377.2L584.3 377.3L585.1 377.3L585.9 377.4L586.7 377.5L587.5 377.6L588.3 377.6L589.1 377.7L589.9 377.8L590.7 377.9L591.5 377.9L592.3 378.0L593.1 378.1L593.9 378.2L594.7 378.3L595.5 378.3L596.3 378.4L597.1 378.5L597.9 378.6L598.7 378.7L599.5 378.7L600.3 378.8L601.1 378.9L601.9 379.0L602.7 379.1L603.4 379.2L604.2 379.3L605.0 379.3L605.8 379.4L606.6 379.5L607.4 379.6L608.2 379.7L609.0 379.8L609.8 379.9L610.6 380.0L611.4 380.1L612.2 380.2L613.0 380.3L613.8 380.4L614.6 380.5L615.4 380.6L616.2 380.7L617.0 380.8L617.8 380.8L618.6 380.9L619.4 381.0L620.2 381.1L621.0 381.2L621.8 381.3L622.6 381.4L623.4 381.5L624.2 381.6L624.9 381.7L625.7 381.8L626.5 381.9L627.3 382.0L628.1 382.0L628.9 382.1L629.7 382.2L630.5 382.3L631.3 382.4L632.1 382.5L632.9 382.6L633.7 382.7L634.5 382.8L635.3 382.9L636.1 382.9L636.9 383.0L637.7 383.1L638.5 383.2L639.3 383.3L640.1 383.4L640.9 383.5L641.7 383.6L642.5 383.7L643.3 383.7L644.1 383.8L644.9 383.9L645.7 384.0L646.5 384.1L647.3 384.2L648.1 384.2L648.9 384.3L649.7 384.4L650.5 384.5L651.2 384.6L652.0 384.6L652.8 384.7L653.6 384.8L654.4 384.9L655.2 384.9L656.0 385.0L656.8 385.1L657.6 385.1L658.4 385.2L659.2 385.3L660.0 385.3L660.8 385.4L661.6 385.5L662.4 385.5L663.2 385.6L664.0 385.6L664.8 385.7L665.6 385.8L666.4 385.8L667.2 385.9L668.0 385.9L668.8 386.0L669.6 386.1L670.4 386.1L671.2 386.2L672.0 386.2L672.8 386.3L673.6 386.3L674.4 386.4L675.2 386.5L676.0 386.5L676.8 386.6L677.6 386.6L678.4 386.7L679.2 386.7L680.0 386.8L680.8 386.8L681.6 386.9L682.4 387.0L683.2 387.0L684.0 387.1L684.8 387.1L685.6 387.2L686.4 387.2L687.2 387.3L688.0 387.4L688.8 387.4L689.6 387.5L690.4 387.5L691.2 387.6L692.0 387.6L692.8 387.7L693.6 387.8L694.4 387.8L695.2 387.9L696.0 387.9L696.8 388.0L697.6 388.0L698.4 388.1L699.2 388.1L700.0 388.2L700.8 388.2L701.6 388.3L702.4 388.3L703.2 388.4L704.0 388.4L704.8 388.5L705.6 388.5L706.4 388.6L707.2 388.6L708.0 388.7L708.8 388.7L709.6 388.7L710.4 388.8L711.2 388.8L712.0 388.9L712.8 388.9L713.6 388.9L714.4 389.0L715.2 389.0L716.0 389.0L716.8 389.1L717.6 389.1L718.4 389.2L719.2 389.2L720.0 389.2L720.8 389.3L721.6 389.3L722.4 389.3L723.2 389.4L724.0 389.4L724.8 389.4L725.6 389.5L726.4 389.5L727.2 389.5L728.0 389.5L728.8 389.6L729.6 389.6L730.4 389.6L731.2 389.6L732.1 389.7L732.9 389.7L733.7 389.7L734.5 389.7L735.3 389.7L736.1 389.8L736.9 389.8L737.7 389.8L738.5 389.8L739.3 389.8L740.1 389.8L740.9 389.8L741.7 389.8L742.5 389.9L743.3 389.9L744.1 389.9L744.9 389.9L745.7 389.9L746.5 389.9L747.3 389.9L748.1 389.9L748.9 389.9L749.7 389.9L750.5 390.0L751.3 390.0L752.1 390.0L752.9 390.0L753.7 390.0L754.5 390.0L755.3 390.0L756.1 390.0L756.9 390.0L757.7 390.0L758.5 390.0L759.3 390.1L760.1 390.1L760.9 390.1L761.7 390.1L762.5 390.1L763.3 390.1L764.1 390.1L764.9 390.1L765.7 390.1L766.5 390.1L767.3 390.1L768.1 390.1L768.9 390.1L769.7 390.1L770.5 390.2L771.3 390.2L772.1 390.2L772.9 390.2L773.7 390.2L774.5 390.2L775.3 390.2L776.1 390.2L776.9 390.2L777.7 390.2L778.5 390.2L779.3 390.2L780.1 390.2L780.9 390.2L781.7 390.2L782.5 390.2L783.3 390.2L784.2 390.2L785.0 390.2L785.8 390.3L786.6 390.3L787.4 390.3L788.2 390.3L789.0 390.3L789.8 390.3L790.6 390.3L791.4 390.3L792.2 390.3L793.0 390.3L793.8 390.3L794.6 390.3L795.4 390.3L796.2 390.3L797.0 390.3L797.8 390.3L798.6 390.3L799.4 390.3L800.2 390.3L801.0 390.3L801.8 390.3L802.6 390.3L803.4 390.3L804.2 390.3L805.0 390.3" stroke="#0000ff" stroke-width="4.0" stroke-dasharray="3.8 4.5"/>
<path d="M170.0 386.0L170.0 384.2L170.0 382.5L170.0 380.9L170.0 379.3L170.1 377.8L170.1 376.4L170.1 375.0L170.2 373.7L170.2 372.4L170.2 371.2L170.3 370.0L170.4 368.9L170.4 367.9L170.5 366.9L170.6 366.0L170.6 365.1L170.7 364.3L170.8 363.5L170.9 362.7L171.0 362.1L171.1 361.4L171.2 360.8L171.3 360.3L171.4 359.8L171.6 359.3L171.7 358.9L171.8 358.6L172.0 358.2L172.1 358.0L172.3 357.7L172.4 357.5L172.6 357.3L172.8 357.2L172.9 357.1L173.1 357.0L173.3 357.0L173.5 357.0L173.9 357.3L174.5 357.8L175.1 358.4L175.9 359.1L176.7 359.7L177.5 360.3L178.3 360.8L179.1 361.0L179.8 361.0L180.5 361.0L181.3 361.0L182.0 360.9L182.8 360.9L183.6 360.9L184.4 360.8L185.2 360.8L186.0 360.7L186.8 360.7L187.6 360.6L188.4 360.6L189.3 360.5L190.1 360.5L190.9 360.4L191.8 360.4L192.6 360.3L193.4 360.3L194.2 360.2L195.0 360.2L195.9 360.2L196.7 360.2L197.5 360.2L198.3 360.2L199.1 360.2L199.9 360.2L200.7 360.2L201.5 360.2L202.3 360.2L203.1 360.2L203.9 360.2L204.7 360.2L205.5 360.2L206.3 360.2L207.1 360.2L207.9 360.2L208.7 360.2L209.5 360.2L210.3 360.2L211.1 360.2L211.9 360.2L212.7 360.2L213.5 360.2L214.3 360.2L215.1 360.2L215.9 360.2L216.7 360.2L217.5 360.2L218.3 360.2L219.1 360.2L219.9 360.2L220.7 360.2L221.5 360.2L222.3 360.2L223.1 360.2L223.9 360.3L224.7 360.3L225.5 360.3L226.3 360.3L227.1 360.3L227.9 360.3L228.7 360.3L229.5 360.3L230.3 360.3L231.1 360.3L231.9 360.3L232.7 360.3L233.5 360.3L234.3 360.3L235.1 360.3L235.9 360.3L236.7 360.3L237.5 360.3L238.3 360.3L239.2 360.3L240.0 360.3L240.8 360.3L241.6 360.3L242.4 360.3L243.2 360.3L244.0 360.3L244.8 360.3L245.6 360.4L246.4 360.4L247.2 360.4L248.0 360.4L248.8 360.4L249.6 360.4L250.4 360.4L251.2 360.4L252.0 360.4L252.8 360.4L253.6 360.4L254.4 360.4L255.2 360.4L256.0 360.4L256.8 360.4L257.6 360.4L258.4 360.4L259.2 360.4L260.0 360.4L260.8 360.5L261.6 360.5L262.4 360.5L263.2 360.5L264.0 360.5L264.8 360.5L265.6 360.5L266.4 360.5L267.2 360.5L268.0 360.5L268.8 360.5L269.6 360.5L270.4 360.5L271.2 360.5L272.0 360.5L272.8 360.5L273.6 360.5L274.4 360.6L275.2 360.6L276.0 360.6L276.8 360.6L277.6 360.6L278.4 360.6L279.2 360.6L280.0 360.6L280.8 360.6L281.6 360.6L282.4 360.6L283.2 360.6L284.0 360.6L284.9 360.6L285.7 360.7L286.5 360.7L287.3 360.7L288.1 360.7L288.9 360.7L289.7 360.7L290.5 360.7L291.3 360.7L292.1 360.7L292.9 360.8L293.7 360.8L294.5 360.8L295.3 360.8L296.1 360.8L296.9 360.8L297.7 360.8L298.5 360.9L299.3 360.9L300.1 360.9L300.9 360.9L301.7 360.9L302.5 360.9L303.3 361.0L304.1 361.0L304.9 361.0L305.7 361.0L306.5 361.0L307.3 361.0L308.1 361.1L308.9 361.1L309.7 361.1L310.5 361.1L311.3 361.1L312.1 361.2L312.9 361.2L313.7 361.2L314.5 361.2L315.3 361.3L316.1 361.3L316.9 361.3L317.7 361.3L318.5 361.3L319.3 361.4L320.1 361.4L320.9 361.4L321.7 361.4L322.5 361.5L323.3 361.5L324.1 361.5L324.9 361.5L325.7 361.6L326.5 361.6L327.3 361.6L328.1 361.6L328.9 361.7L329.7 361.7L330.5 361.7L331.3 361.7L332.1 361.8L332.9 361.8L333.7 361.8L334.5 361.8L335.3 361.9L336.1 361.9L336.9 361.9L337.7 361.9L338.6 362.0L339.4 362.0L340.2 362.0L341.0 362.1L341.8 362.1L342.6 362.1L343.4 362.1L344.2 362.2L345.0 362.2L345.8 362.2L346.6 362.2L347.4 362.3L348.2 362.3L349.0 362.3L349.8 362.4L350.6 362.4L351.4 362.4L352.2 362.4L353.0 362.5L353.8 362.5L354.6 362.5L355.4 362.6L356.2 362.6L357.0 362.6L357.8 362.7L358.6 362.7L359.4 362.7L360.2 362.8L361.0 362.8L361.8 362.8L362.6 362.9L363.4 362.9L364.2 363.0L365.0 363.0L365.8 363.0L366.6 363.1L367.4 363.1L368.2 363.2L369.0 363.2L369.8 363.2L370.6 363.3L371.4 363.3L372.2 363.4L373.0 363.4L373.8 363.5L374.6 363.5L375.4 363.6L376.2 363.6L377.0 363.7L377.8 363.7L378.6 363.8L379.4 363.8L380.2 363.8L381.0 363.9L381.8 363.9L382.6 364.0L383.4 364.0L384.2 364.1L385.0 364.1L385.8 364.2L386.6 364.2L387.4 364.3L388.2 364.3L389.0 364.4L389.8 364.4L390.6 364.5L391.4 364.5L392.2 364.6L393.0 364.6L393.8 364.7L394.6 364.7L395.4 364.7L396.2 364.8L397.0 364.8L397.8 364.9L398.6 364.9L399.4 365.0L400.2 365.0L401.0 365.1L401.8 365.1L402.6 365.1L403.4 365.2L404.2 365.2L405.0 365.3L405.8 365.3L406.6 365.3L407.4 365.4L408.2 365.4L409.0 365.5L409.8 365.5L410.6 365.6L411.4 365.6L412.2 365.6L413.0 365.7L413.8 365.7L414.6 365.8L415.4 365.8L416.2 365.8L417.0 365.9L417.8 365.9L418.6 366.0L419.4 366.0L420.2 366.1L421.0 366.1L421.8 366.1L422.6 366.2L423.4 366.2L424.2 366.3L425.0 366.3L425.8 366.3L426.6 366.4L427.4 366.4L428.2 366.5L429.0 366.5L429.8 366.6L430.6 366.6L431.4 366.6L432.2 366.7L433.0 366.7L433.8 366.8L434.6 366.8L435.4 366.8L436.2 366.9L437.0 366.9L437.8 367.0L438.6 367.0L439.4 367.1L440.2 367.1L441.0 367.1L441.8 367.2L442.6 367.2L443.4 367.3L444.2 367.3L445.0 367.4L445.8 367.4L446.6 367.4L447.4 367.5L448.2 367.5L449.0 367.6L449.8 367.6L450.6 367.7L451.4 367.7L452.2 367.8L453.0 367.8L453.8 367.8L454.6 367.9L455.4 367.9L456.2 368.0L457.0 368.0L457.8 368.1L458.6 368.1L459.4 368.2L460.2 368.2L461.0 368.3L461.8 368.3L462.6 368.4L463.4 368.4L464.2 368.5L465.0 368.5L465.8 368.6L466.6 368.6L467.4 368.6L468.2 368.7L469.0 368.7L469.8 368.8L470.6 368.8L471.4 368.9L472.2 368.9L473.0 369.0L473.8 369.0L474.6 369.1L475.4 369.1L476.2 369.2L477.0 369.2L477.8 369.3L478.6 369.3L479.4 369.4L480.2 369.4L481.0 369.5L481.8 369.5L482.6 369.6L483.4 369.6L484.2 369.7L485.0 369.7L485.8 369.8L486.6 369.8L487.4 369.9L488.2 369.9L489.0 370.0L489.8 370.0L490.6 370.1L491.4 370.1L492.2 370.2L493.0 370.2L493.8 370.3L494.6 370.3L495.5 370.4L496.3 370.4L497.1 370.5L497.9 370.5L498.7 370.6L499.5 370.6L500.3 370.7L501.1 370.7L501.9 370.8L502.7 370.8L503.5 370.9L504.3 370.9L505.1 370.9L505.9 371.0L506.7 371.0L507.5 371.1L508.3 371.1L509.1 371.2L509.9 371.2L510.7 371.3L511.5 371.3L512.3 371.4L513.1 371.4L513.9 371.4L514.7 371.5L515.5 371.5L516.3 371.6L517.1 371.6L517.9 371.7L518.7 371.7L519.5 371.7L520.3 371.8L521.1 371.8L521.9 371.9L522.7 371.9L523.5 372.0L524.3 372.0L525.1 372.0L525.9 372.1L526.7 372.1L527.5 372.2L528.3 372.2L529.1 372.3L529.9 372.3L530.7 372.3L531.5 372.4L532.3 372.4L533.1 372.5L533.9 372.5L534.7 372.6L535.5 372.6L536.3 372.6L537.1 372.7L537.9 372.7L538.7 372.8L539.5 372.8L540.3 372.9L541.1 372.9L541.9 372.9L542.7 373.0L543.5 373.0L544.3 373.1L545.1 373.1L545.9 373.2L546.7 373.2L547.5 373.3L548.3 373.3L549.1 373.4L549.9 373.4L550.7 373.5L551.5 373.5L552.3 373.6L553.1 373.6L553.9 373.7L554.7 373.7L555.5 373.8L556.3 373.8L557.1 373.9L557.9 373.9L558.7 374.0L559.5 374.0L560.3 374.1L561.1 374.1L561.9 374.2L562.7 374.3L563.5 374.3L564.3 374.4L565.1 374.4L565.9 374.5L566.7 374.6L567.5 374.6L568.3 374.7L569.1 374.7L569.9 374.8L570.7 374.9L571.5 374.9L572.3 375.0L573.1 375.1L573.9 375.1L574.7 375.2L575.5 375.3L576.3 375.3L577.1 375.4L577.9 375.5L578.7 375.5L579.5 375.6L580.3 375.7L581.1 375.7L581.9 375.8L582.7 375.9L583.5 375.9L584.3 376.0L585.1 376.1L585.9 376.1L586.6 376.2L587.4 376.3L588.2 376.4L589.0 376.4L589.8 376.5L590.6 376.6L591.4 376.6L592.2 376.7L593.0 376.8L593.8 376.9L594.6 376.9L595.4 377.0L596.2 377.1L597.0 377.1L597.8 377.2L598.6 377.3L599.4 377.3L600.2 377.4L601.0 377.5L601.8 377.6L602.6 377.6L603.4 377.7L604.2 377.8L605.0 377.9L605.8 377.9L606.6 378.0L607.4 378.1L608.2 378.2L609.0 378.2L609.8 378.3L610.6 378.4L611.4 378.5L612.2 378.5L613.0 378.6L613.8 378.7L614.6 378.8L615.4 378.9L616.2 378.9L617.0 379.0L617.8 379.1L618.6 379.2L619.4 379.2L620.2 379.3L621.0 379.4L621.8 379.5L622.6 379.5L623.4 379.6L624.2 379.7L625.0 379.8L625.8 379.8L626.6 379.9L627.4 380.0L628.2 380.0L629.0 380.1L629.8 380.2L630.6 380.2L631.4 380.3L632.2 380.4L633.0 380.5L633.8 380.5L634.6 380.6L635.3 380.7L636.1 380.7L636.9 380.8L637.7 380.9L638.5 380.9L639.3 381.0L640.1 381.1L640.9 381.1L641.7 381.2L642.5 381.3L643.3 381.3L644.1 381.4L644.9 381.5L645.7 381.5L646.5 381.6L647.3 381.6L648.1 381.7L648.9 381.8L649.7 381.8L650.5 381.9L651.3 381.9L652.1 382.0L652.9 382.1L653.7 382.1L654.5 382.2L655.3 382.2L656.1 382.3L656.9 382.3L657.7 382.4L658.5 382.4L659.3 382.5L660.1 382.5L660.9 382.6L661.7 382.6L662.5 382.7L663.3 382.7L664.1 382.8L664.9 382.8L665.7 382.8L666.5 382.9L667.3 382.9L668.1 383.0L668.9 383.0L669.7 383.1L670.5 383.1L671.3 383.1L672.1 383.2L672.9 383.2L673.7 383.3L674.5 383.3L675.3 383.4L676.1 383.4L676.9 383.5L677.7 383.5L678.5 383.5L679.3 383.6L680.1 383.6L680.9 383.7L681.7 383.7L682.5 383.8L683.3 383.8L684.1 383.9L684.9 383.9L685.7 384.0L686.5 384.0L687.3 384.1L688.1 384.1L688.9 384.2L689.7 384.2L690.5 384.3L691.3 384.3L692.1 384.4L692.9 384.4L693.7 384.5L694.5 384.5L695.3 384.6L696.1 384.6L696.9 384.7L697.7 384.7L698.5 384.8L699.3 384.8L700.1 384.9L700.9 384.9L701.7 385.0L702.5 385.0L703.3 385.1L704.1 385.1L704.9 385.2L705.7 385.2L706.5 385.3L707.3 385.4L708.1 385.4L708.9 385.5L709.7 385.5L710.5 385.6L711.3 385.6L712.1 385.7L712.9 385.7L713.7 385.8L714.5 385.8L715.3 385.9L716.1 386.0L716.9 386.0L717.7 386.1L718.5 386.1L719.3 386.2L720.1 386.3L720.9 386.3L721.7 386.4L722.5 386.4L723.3 386.5L724.1 386.6L724.9 386.6L725.7 386.7L726.5 386.7L727.3 386.8L728.1 386.9L728.9 386.9L729.7 387.0L730.5 387.0L731.3 387.1L732.1 387.2L732.9 387.2L733.7 387.3L734.5 387.3L735.3 387.4L736.1 387.4L736.9 387.5L737.7 387.5L738.5 387.6L739.3 387.7L740.1 387.7L740.9 387.8L741.7 387.8L742.5 387.9L743.3 387.9L744.1 388.0L744.9 388.0L745.7 388.1L746.5 388.1L747.3 388.2L748.1 388.2L748.9 388.3L749.7 388.4L750.5 388.4L751.3 388.5L752.1 388.5L752.9 388.6L753.7 388.6L754.5 388.7L755.3 388.7L756.1 388.8L756.9 388.8L757.7 388.9L758.5 388.9L759.3 389.0L760.1 389.0L760.9 389.0L761.7 389.1L762.5 389.1L763.3 389.2L764.1 389.2L764.9 389.2L765.7 389.3L766.5 389.3L767.3 389.4L768.1 389.4L768.9 389.4L769.7 389.5L770.5 389.5L771.3 389.6L772.1 389.6L772.9 389.6L773.7 389.7L774.5 389.7L775.3 389.7L776.1 389.8L776.9 389.8L777.7 389.8L778.6 389.9L779.4 389.9L780.2 389.9L781.0 390.0L781.8 390.0L782.6 390.0L783.4 390.1L784.2 390.1L785.0 390.1L785.8 390.1L786.6 390.1L787.4 390.2L788.2 390.2L789.0 390.2L789.8 390.2L790.6 390.2L791.4 390.2L792.2 390.2L793.0 390.2L793.8 390.2L794.6 390.2L795.4 390.3L796.2 390.3L797.0 390.3L797.8 390.3L798.6 390.3L799.4 390.3L800.2 390.3L801.0 390.3L801.8 390.3L802.6 390.3L803.4 390.3L804.2 390.3L805.0 390.3" stroke="#ff4500" stroke-width="4.0" stroke-dasharray="3.6 2.7 3.6 2.7 3.6 6.5"/>
</g>
<rect x="167.7" y="10.36" width="637.3" height="380.0" fill="none" stroke="#000" stroke-width="2"/>
<path d="M167.70 390.35 v10.5M167.70 10.36 v-10.5M181.86 390.35 v5.2M181.86 10.36 v-5.2M196.02 390.35 v5.2M196.02 10.36 v-5.2M210.19 390.35 v5.2M210.19 10.36 v-5.2M224.35 390.35 v5.2M224.35 10.36 v-5.2M238.51 390.35 v10.5M238.51 10.36 v-10.5M252.67 390.35 v5.2M252.67 10.36 v-5.2M266.84 390.35 v5.2M266.84 10.36 v-5.2M281.00 390.35 v5.2M281.00 10.36 v-5.2M295.16 390.35 v5.2M295.16 10.36 v-5.2M309.32 390.35 v10.5M309.32 10.36 v-10.5M323.48 390.35 v5.2M323.48 10.36 v-5.2M337.65 390.35 v5.2M337.65 10.36 v-5.2M351.81 390.35 v5.2M351.81 10.36 v-5.2M365.97 390.35 v5.2M365.97 10.36 v-5.2M380.13 390.35 v10.5M380.13 10.36 v-10.5M394.30 390.35 v5.2M394.30 10.36 v-5.2M408.46 390.35 v5.2M408.46 10.36 v-5.2M422.62 390.35 v5.2M422.62 10.36 v-5.2M436.78 390.35 v5.2M436.78 10.36 v-5.2M450.94 390.35 v10.5M450.94 10.36 v-10.5M465.11 390.35 v5.2M465.11 10.36 v-5.2M479.27 390.35 v5.2M479.27 10.36 v-5.2M493.43 390.35 v5.2M493.43 10.36 v-5.2M507.59 390.35 v5.2M507.59 10.36 v-5.2M521.76 390.35 v10.5M521.76 10.36 v-10.5M535.92 390.35 v5.2M535.92 10.36 v-5.2M550.08 390.35 v5.2M550.08 10.36 v-5.2M564.24 390.35 v5.2M564.24 10.36 v-5.2M578.40 390.35 v5.2M578.40 10.36 v-5.2M592.57 390.35 v10.5M592.57 10.36 v-10.5M606.73 390.35 v5.2M606.73 10.36 v-5.2M620.89 390.35 v5.2M620.89 10.36 v-5.2M635.05 390.35 v5.2M635.05 10.36 v-5.2M649.22 390.35 v5.2M649.22 10.36 v-5.2M663.38 390.35 v10.5M663.38 10.36 v-10.5M677.54 390.35 v5.2M677.54 10.36 v-5.2M691.70 390.35 v5.2M691.70 10.36 v-5.2M705.86 390.35 v5.2M705.86 10.36 v-5.2M720.03 390.35 v5.2M720.03 10.36 v-5.2M734.19 390.35 v10.5M734.19 10.36 v-10.5M748.35 390.35 v5.2M748.35 10.36 v-5.2M762.51 390.35 v5.2M762.51 10.36 v-5.2M776.68 390.35 v5.2M776.68 10.36 v-5.2M790.84 390.35 v5.2M790.84 10.36 v-5.2M805.00 390.35 v10.5M805.00 10.36 v-10.5M167.7 390.35 h-11M805.0 390.35 h11M167.7 365.02 h-5.6M805.0 365.02 h5.6M167.7 339.68 h-5.6M805.0 339.68 h5.6M167.7 314.35 h-11M805.0 314.35 h11M167.7 289.02 h-5.6M805.0 289.02 h5.6M167.7 263.69 h-5.6M805.0 263.69 h5.6M167.7 238.35 h-11M805.0 238.35 h11M167.7 213.02 h-5.6M805.0 213.02 h5.6M167.7 187.69 h-5.6M805.0 187.69 h5.6M167.7 162.36 h-11M805.0 162.36 h11M167.7 137.02 h-5.6M805.0 137.02 h5.6M167.7 111.69 h-5.6M805.0 111.69 h5.6M167.7 86.36 h-11M805.0 86.36 h11M167.7 61.03 h-5.6M805.0 61.03 h5.6M167.7 35.69 h-5.6M805.0 35.69 h5.6M167.7 10.36 h-11M805.0 10.36 h11" stroke="#000" stroke-width="2" fill="none"/>
<text transform="translate(669.50 45.50) scale(0.951 1)" font-family="Liberation Sans, sans-serif" font-size="31px" fill="#000" stroke="#000" stroke-width="0.35" text-anchor="end">GPE N<tspan dy="3.4">=</tspan><tspan dy="-3.4">500</tspan></text>
<path d="M687.2 35.5H769.8" stroke="#00ff00" stroke-width="4.5" fill="none" stroke-dasharray="7.2 2.8"/>
<text transform="translate(669.50 75.18) scale(0.951 1)" font-family="Liberation Sans, sans-serif" font-size="31px" fill="#000" stroke="#000" stroke-width="0.35" text-anchor="end">USE N<tspan dy="3.4">=</tspan><tspan dy="-3.4">500</tspan></text>
<path d="M687.2 65.2H769.8" stroke="#ff0000" stroke-width="3.8" fill="none"/>
<text transform="translate(669.50 104.86) scale(0.951 1)" font-family="Liberation Sans, sans-serif" font-size="31px" fill="#000" stroke="#000" stroke-width="0.35" text-anchor="end">MGPE N<tspan dy="3.4">=</tspan><tspan dy="-3.4">500</tspan></text>
<path d="M687.2 94.9H769.8" stroke="#000000" stroke-width="2.0" fill="none" stroke-dasharray="9 16"/>
<text transform="translate(669.50 134.54) scale(0.951 1)" font-family="Liberation Sans, sans-serif" font-size="31px" fill="#000" stroke="#000" stroke-width="0.35" text-anchor="end">GPE N<tspan dy="3.4">=</tspan><tspan dy="-3.4">5000</tspan></text>
<path d="M687.2 124.5H768.4" stroke="#ff00ff" stroke-width="4.5" fill="none" stroke-dasharray="2 2.1"/>
<text transform="translate(669.50 164.22) scale(0.951 1)" font-family="Liberation Sans, sans-serif" font-size="31px" fill="#000" stroke="#000" stroke-width="0.35" text-anchor="end">USE N<tspan dy="3.4">=</tspan><tspan dy="-3.4">5000</tspan></text>
<path d="M687.2 154.2H764.3" stroke="#000000" stroke-width="4.5" fill="none" stroke-dasharray="4.2 2.4 4.2 5.7"/>
<text transform="translate(669.50 193.90) scale(0.951 1)" font-family="Liberation Sans, sans-serif" font-size="31px" fill="#000" stroke="#000" stroke-width="0.35" text-anchor="end">GPE N<tspan dy="3.4">=</tspan><tspan dy="-3.4">100000</tspan></text>
<path d="M687.2 183.9H767.0" stroke="#00ffff" stroke-width="4.5" fill="none" stroke-dasharray="9.4 2.5 2.5 2.5"/>
<text transform="translate(669.50 223.58) scale(0.951 1)" font-family="Liberation Sans, sans-serif" font-size="31px" fill="#000" stroke="#000" stroke-width="0.35" text-anchor="end">USE N<tspan dy="3.4">=</tspan><tspan dy="-3.4">100000</tspan></text>
<path d="M687.2 213.6H766.4" stroke="#0000ff" stroke-width="4.0" fill="none" stroke-dasharray="3.8 4.5"/>
<text transform="translate(669.50 253.26) scale(0.951 1)" font-family="Liberation Sans, sans-serif" font-size="31px" fill="#000" stroke="#000" stroke-width="0.35" text-anchor="end">MGPE N<tspan dy="3.4">=</tspan><tspan dy="-3.4">100000</tspan></text>
<path d="M687.2 243.3H767.2" stroke="#ff4500" stroke-width="4.0" fill="none" stroke-dasharray="3.6 2.7 3.6 2.7 3.6 6.5"/>
<text transform="translate(138.60 401.25) scale(0.95 1)" font-family="Liberation Sans, sans-serif" font-size="31px" fill="#0000ff" stroke="#0000ff" stroke-width="0.35" text-anchor="end">0</text>
<text transform="translate(138.60 325.25) scale(0.95 1)" font-family="Liberation Sans, sans-serif" font-size="31px" fill="#0000ff" stroke="#0000ff" stroke-width="0.35" text-anchor="end">0.006</text>
<text transform="translate(138.60 249.25) scale(0.95 1)" font-family="Liberation Sans, sans-serif" font-size="31px" fill="#0000ff" stroke="#0000ff" stroke-width="0.35" text-anchor="end">0.012</text>
<text transform="translate(138.60 173.26) scale(0.95 1)" font-family="Liberation Sans, sans-serif" font-size="31px" fill="#0000ff" stroke="#0000ff" stroke-width="0.35" text-anchor="end">0.018</text>
<text transform="translate(138.60 97.26) scale(0.95 1)" font-family="Liberation Sans, sans-serif" font-size="31px" fill="#0000ff" stroke="#0000ff" stroke-width="0.35" text-anchor="end">0.024</text>
<text transform="translate(138.60 21.26) scale(0.95 1)" font-family="Liberation Sans, sans-serif" font-size="31px" fill="#0000ff" stroke="#0000ff" stroke-width="0.35" text-anchor="end">0.03</text>
<text transform="translate(171.50 441.00) scale(0.95 1)" font-family="Liberation Sans, sans-serif" font-size="31px" fill="#000" stroke="#000" stroke-width="0.35" text-anchor="middle">0</text>
<text transform="translate(242.31 441.00) scale(0.95 1)" font-family="Liberation Sans, sans-serif" font-size="31px" fill="#000" stroke="#000" stroke-width="0.35" text-anchor="middle">2</text>
<text transform="translate(313.12 441.00) scale(0.95 1)" font-family="Liberation Sans, sans-serif" font-size="31px" fill="#000" stroke="#000" stroke-width="0.35" text-anchor="middle">4</text>
<text transform="translate(383.93 441.00) scale(0.95 1)" font-family="Liberation Sans, sans-serif" font-size="31px" fill="#000" stroke="#000" stroke-width="0.35" text-anchor="middle">6</text>
<text transform="translate(454.74 441.00) scale(0.95 1)" font-family="Liberation Sans, sans-serif" font-size="31px" fill="#000" stroke="#000" stroke-width="0.35" text-anchor="middle">8</text>
<text transform="translate(526.76 441.00) scale(0.95 1)" font-family="Liberation Sans, sans-serif" font-size="31px" fill="#000" stroke="#000" stroke-width="0.35" text-anchor="middle">10</text>
<text transform="translate(597.57 441.00) scale(0.95 1)" font-family="Liberation Sans, sans-serif" font-size="31px" fill="#000" stroke="#000" stroke-width="0.35" text-anchor="middle">12</text>
<text transform="translate(668.38 441.00) scale(0.95 1)" font-family="Liberation Sans, sans-serif" font-size="31px" fill="#000" stroke="#000" stroke-width="0.35" text-anchor="middle">14</text>
<text transform="translate(739.19 441.00) scale(0.95 1)" font-family="Liberation Sans, sans-serif" font-size="31px" fill="#000" stroke="#000" stroke-width="0.35" text-anchor="middle">16</text>
<text transform="translate(810.00 441.00) scale(0.95 1)" font-family="Liberation Sans, sans-serif" font-size="31px" fill="#000" stroke="#000" stroke-width="0.35" text-anchor="middle">18</text>
<text transform="translate(39.00 201.00) rotate(-90) scale(0.97 1)" font-family="Liberation Sans, sans-serif" font-size="31px" fill="#0000ff" stroke="#0000ff" stroke-width="0.35" text-anchor="middle">Column density</text>
<text transform="translate(464.20 468.80) scale(0.95 1)" font-family="Liberation Sans, sans-serif" font-size="31px" fill="#0000ff" stroke="#0000ff" stroke-width="0.35" text-anchor="start">ρ/l<tspan font-size="27.0px" dy="9.3">c</tspan></text>
<text transform="translate(592.50 296.40) scale(0.954 1)" font-family="Liberation Sans, sans-serif" font-size="31px" fill="#0000ff" stroke="#0000ff" stroke-width="0.35" text-anchor="start">a/l<tspan font-size="27.0px" dy="9.3">c</tspan><tspan dy="-5.9"> =</tspan><tspan dy="-3.4"> 0.15155</tspan></text>
<text transform="translate(592.94 339.60) scale(1.072 1)" font-family="Liberation Serif, serif" font-size="30.68px" fill="#0000ff" stroke="#0000ff" stroke-width="0.4">λ</text>
<text transform="translate(609.00 325.00) scale(0.995 1)" font-family="Liberation Serif, serif" font-size="25.08px" fill="#0000ff" stroke="#0000ff" stroke-width="0.4">2</text>
<text transform="translate(626.54 341.28) scale(1.166 1)" font-family="Liberation Serif, serif" font-size="28.40px" fill="#0000ff" stroke="#0000ff" stroke-width="0.4">=</text>
<text transform="translate(652.50 339.88) scale(0.825 1)" font-family="Liberation Serif, serif" font-size="32.00px" fill="#0000ff" stroke="#0000ff" stroke-width="0.4">8</text>
</svg>
</body></html>
